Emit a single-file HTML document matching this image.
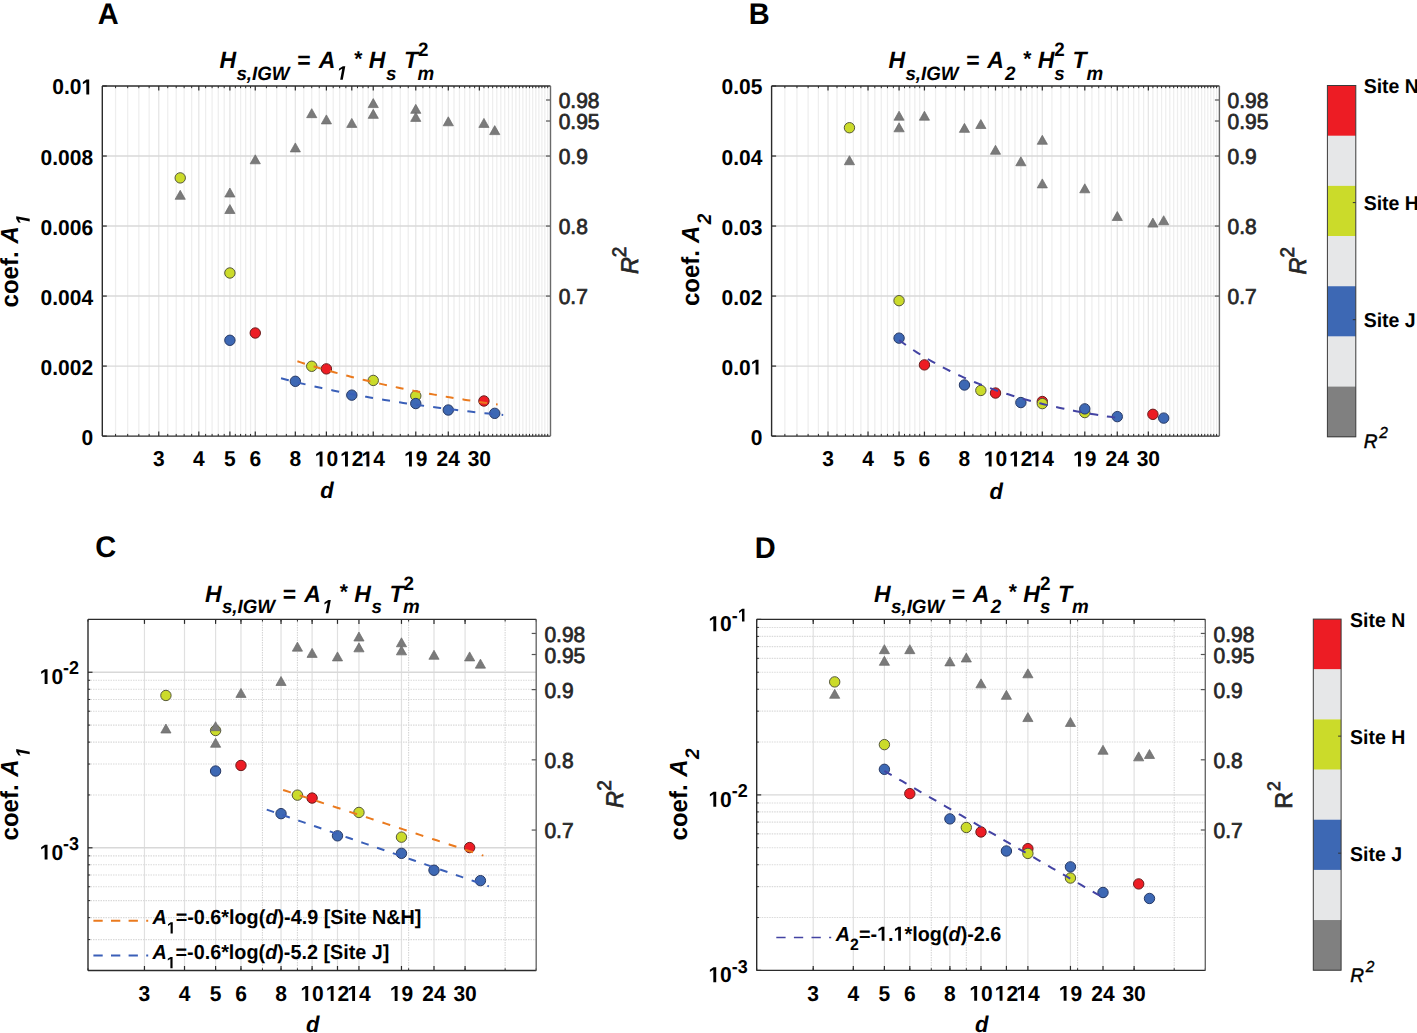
<!DOCTYPE html>
<html><head><meta charset="utf-8"><title>Figure</title>
<style>html,body{margin:0;padding:0;background:#fff;overflow:hidden;} svg{display:block;}</style>
</head><body>
<svg width="1417" height="1033" viewBox="0 0 1417 1033" text-rendering="geometricPrecision">
<rect width="1417" height="1033" fill="#fff"/>
<line x1="115.57" y1="86" x2="115.57" y2="436.1" stroke="#eeeeee" stroke-width="1.25" />
<line x1="127.69" y1="86" x2="127.69" y2="436.1" stroke="#eeeeee" stroke-width="1.25" />
<line x1="138.83" y1="86" x2="138.83" y2="436.1" stroke="#eeeeee" stroke-width="1.25" />
<line x1="149.15" y1="86" x2="149.15" y2="436.1" stroke="#eeeeee" stroke-width="1.25" />
<line x1="167.74" y1="86" x2="167.74" y2="436.1" stroke="#eeeeee" stroke-width="1.25" />
<line x1="176.19" y1="86" x2="176.19" y2="436.1" stroke="#eeeeee" stroke-width="1.25" />
<line x1="184.14" y1="86" x2="184.14" y2="436.1" stroke="#eeeeee" stroke-width="1.25" />
<line x1="191.67" y1="86" x2="191.67" y2="436.1" stroke="#eeeeee" stroke-width="1.25" />
<line x1="205.61" y1="86" x2="205.61" y2="436.1" stroke="#eeeeee" stroke-width="1.25" />
<line x1="212.09" y1="86" x2="212.09" y2="436.1" stroke="#eeeeee" stroke-width="1.25" />
<line x1="218.28" y1="86" x2="218.28" y2="436.1" stroke="#eeeeee" stroke-width="1.25" />
<line x1="224.2" y1="86" x2="224.2" y2="436.1" stroke="#eeeeee" stroke-width="1.25" />
<line x1="235.35" y1="86" x2="235.35" y2="436.1" stroke="#eeeeee" stroke-width="1.25" />
<line x1="240.6" y1="86" x2="240.6" y2="436.1" stroke="#eeeeee" stroke-width="1.25" />
<line x1="245.67" y1="86" x2="245.67" y2="436.1" stroke="#eeeeee" stroke-width="1.25" />
<line x1="250.55" y1="86" x2="250.55" y2="436.1" stroke="#eeeeee" stroke-width="1.25" />
<line x1="266.42" y1="86" x2="266.42" y2="436.1" stroke="#eeeeee" stroke-width="1.25" />
<line x1="276.74" y1="86" x2="276.74" y2="436.1" stroke="#eeeeee" stroke-width="1.25" />
<line x1="286.34" y1="86" x2="286.34" y2="436.1" stroke="#eeeeee" stroke-width="1.25" />
<line x1="303.77" y1="86" x2="303.77" y2="436.1" stroke="#eeeeee" stroke-width="1.25" />
<line x1="311.73" y1="86" x2="311.73" y2="436.1" stroke="#eeeeee" stroke-width="1.25" />
<line x1="319.26" y1="86" x2="319.26" y2="436.1" stroke="#eeeeee" stroke-width="1.25" />
<line x1="333.19" y1="86" x2="333.19" y2="436.1" stroke="#eeeeee" stroke-width="1.25" />
<line x1="339.67" y1="86" x2="339.67" y2="436.1" stroke="#eeeeee" stroke-width="1.25" />
<line x1="345.86" y1="86" x2="345.86" y2="436.1" stroke="#eeeeee" stroke-width="1.25" />
<line x1="357.47" y1="86" x2="357.47" y2="436.1" stroke="#eeeeee" stroke-width="1.25" />
<line x1="362.93" y1="86" x2="362.93" y2="436.1" stroke="#eeeeee" stroke-width="1.25" />
<line x1="368.19" y1="86" x2="368.19" y2="436.1" stroke="#eeeeee" stroke-width="1.25" />
<line x1="382.86" y1="86" x2="382.86" y2="436.1" stroke="#eeeeee" stroke-width="1.25" />
<line x1="391.84" y1="86" x2="391.84" y2="436.1" stroke="#eeeeee" stroke-width="1.25" />
<line x1="400.29" y1="86" x2="400.29" y2="436.1" stroke="#eeeeee" stroke-width="1.25" />
<line x1="408.24" y1="86" x2="408.24" y2="436.1" stroke="#eeeeee" stroke-width="1.25" />
<line x1="422.91" y1="86" x2="422.91" y2="436.1" stroke="#eeeeee" stroke-width="1.25" />
<line x1="429.71" y1="86" x2="429.71" y2="436.1" stroke="#eeeeee" stroke-width="1.25" />
<line x1="436.19" y1="86" x2="436.19" y2="436.1" stroke="#eeeeee" stroke-width="1.25" />
<line x1="442.38" y1="86" x2="442.38" y2="436.1" stroke="#eeeeee" stroke-width="1.25" />
<line x1="453.99" y1="86" x2="453.99" y2="436.1" stroke="#eeeeee" stroke-width="1.25" />
<line x1="459.45" y1="86" x2="459.45" y2="436.1" stroke="#eeeeee" stroke-width="1.25" />
<line x1="464.7" y1="86" x2="464.7" y2="436.1" stroke="#eeeeee" stroke-width="1.25" />
<line x1="469.77" y1="86" x2="469.77" y2="436.1" stroke="#eeeeee" stroke-width="1.25" />
<line x1="474.65" y1="86" x2="474.65" y2="436.1" stroke="#eeeeee" stroke-width="1.25" />
<line x1="483.94" y1="86" x2="483.94" y2="436.1" stroke="#eeeeee" stroke-width="1.25" />
<line x1="488.36" y1="86" x2="488.36" y2="436.1" stroke="#eeeeee" stroke-width="1.25" />
<line x1="492.64" y1="86" x2="492.64" y2="436.1" stroke="#eeeeee" stroke-width="1.25" />
<line x1="496.8" y1="86" x2="496.8" y2="436.1" stroke="#eeeeee" stroke-width="1.25" />
<line x1="500.84" y1="86" x2="500.84" y2="436.1" stroke="#eeeeee" stroke-width="1.25" />
<line x1="504.76" y1="86" x2="504.76" y2="436.1" stroke="#eeeeee" stroke-width="1.25" />
<line x1="508.57" y1="86" x2="508.57" y2="436.1" stroke="#eeeeee" stroke-width="1.25" />
<line x1="512.29" y1="86" x2="512.29" y2="436.1" stroke="#eeeeee" stroke-width="1.25" />
<line x1="515.9" y1="86" x2="515.9" y2="436.1" stroke="#eeeeee" stroke-width="1.25" />
<line x1="519.43" y1="86" x2="519.43" y2="436.1" stroke="#eeeeee" stroke-width="1.25" />
<line x1="522.87" y1="86" x2="522.87" y2="436.1" stroke="#eeeeee" stroke-width="1.25" />
<line x1="526.22" y1="86" x2="526.22" y2="436.1" stroke="#eeeeee" stroke-width="1.25" />
<line x1="529.5" y1="86" x2="529.5" y2="436.1" stroke="#eeeeee" stroke-width="1.25" />
<line x1="532.7" y1="86" x2="532.7" y2="436.1" stroke="#eeeeee" stroke-width="1.25" />
<line x1="535.83" y1="86" x2="535.83" y2="436.1" stroke="#eeeeee" stroke-width="1.25" />
<line x1="538.89" y1="86" x2="538.89" y2="436.1" stroke="#eeeeee" stroke-width="1.25" />
<line x1="541.88" y1="86" x2="541.88" y2="436.1" stroke="#eeeeee" stroke-width="1.25" />
<line x1="544.82" y1="86" x2="544.82" y2="436.1" stroke="#eeeeee" stroke-width="1.25" />
<line x1="547.69" y1="86" x2="547.69" y2="436.1" stroke="#eeeeee" stroke-width="1.25" />
<line x1="158.76" y1="86" x2="158.76" y2="436.1" stroke="#e6e6e6" stroke-width="1.3" />
<line x1="198.81" y1="86" x2="198.81" y2="436.1" stroke="#e6e6e6" stroke-width="1.3" />
<line x1="229.89" y1="86" x2="229.89" y2="436.1" stroke="#e6e6e6" stroke-width="1.3" />
<line x1="255.27" y1="86" x2="255.27" y2="436.1" stroke="#e6e6e6" stroke-width="1.3" />
<line x1="295.33" y1="86" x2="295.33" y2="436.1" stroke="#e6e6e6" stroke-width="1.3" />
<line x1="326.4" y1="86" x2="326.4" y2="436.1" stroke="#e6e6e6" stroke-width="1.3" />
<line x1="351.79" y1="86" x2="351.79" y2="436.1" stroke="#e6e6e6" stroke-width="1.3" />
<line x1="373.25" y1="86" x2="373.25" y2="436.1" stroke="#e6e6e6" stroke-width="1.3" />
<line x1="415.77" y1="86" x2="415.77" y2="436.1" stroke="#e6e6e6" stroke-width="1.3" />
<line x1="448.3" y1="86" x2="448.3" y2="436.1" stroke="#e6e6e6" stroke-width="1.3" />
<line x1="479.37" y1="86" x2="479.37" y2="436.1" stroke="#e6e6e6" stroke-width="1.3" />
<line x1="102.3" y1="366.08" x2="550.5" y2="366.08" stroke="#d8d8d8" stroke-width="1.4" />
<line x1="102.3" y1="296.06" x2="550.5" y2="296.06" stroke="#d8d8d8" stroke-width="1.4" />
<line x1="102.3" y1="226.04" x2="550.5" y2="226.04" stroke="#d8d8d8" stroke-width="1.4" />
<line x1="102.3" y1="156.02" x2="550.5" y2="156.02" stroke="#d8d8d8" stroke-width="1.4" />
<circle cx="255.27" cy="333" r="5.2" fill="#ed1c24" stroke="#6a1c1c" stroke-width="1.0"/>
<circle cx="326.4" cy="368.88" r="5.2" fill="#ed1c24" stroke="#6a1c1c" stroke-width="1.0"/>
<circle cx="483.94" cy="400.98" r="5.2" fill="#ed1c24" stroke="#6a1c1c" stroke-width="1.0"/>
<circle cx="180.22" cy="177.9" r="5.2" fill="#cbdb2a" stroke="#55573a" stroke-width="1.0"/>
<circle cx="229.89" cy="272.99" r="5.2" fill="#cbdb2a" stroke="#55573a" stroke-width="1.0"/>
<circle cx="311.73" cy="366.26" r="5.2" fill="#cbdb2a" stroke="#55573a" stroke-width="1.0"/>
<circle cx="373.25" cy="380.43" r="5.2" fill="#cbdb2a" stroke="#55573a" stroke-width="1.0"/>
<circle cx="415.77" cy="395.84" r="5.2" fill="#cbdb2a" stroke="#55573a" stroke-width="1.0"/>
<circle cx="229.89" cy="340.28" r="5.2" fill="#3d68b4" stroke="#283a66" stroke-width="1.0"/>
<circle cx="295.33" cy="381.31" r="5.2" fill="#3d68b4" stroke="#283a66" stroke-width="1.0"/>
<circle cx="351.79" cy="395.14" r="5.2" fill="#3d68b4" stroke="#283a66" stroke-width="1.0"/>
<circle cx="415.77" cy="403.54" r="5.2" fill="#3d68b4" stroke="#283a66" stroke-width="1.0"/>
<circle cx="448.3" cy="410.02" r="5.2" fill="#3d68b4" stroke="#283a66" stroke-width="1.0"/>
<circle cx="494.74" cy="413.34" r="5.2" fill="#3d68b4" stroke="#283a66" stroke-width="1.0"/>
<polygon points="180.22,190.31 185.32,199.31 175.12,199.31" fill="#7a7a7a" stroke="#6a6a6a" stroke-width="0.7" stroke-linejoin="round"/>
<polygon points="229.89,188 234.99,197 224.79,197" fill="#7a7a7a" stroke="#6a6a6a" stroke-width="0.7" stroke-linejoin="round"/>
<polygon points="229.89,204.53 234.99,213.53 224.79,213.53" fill="#7a7a7a" stroke="#6a6a6a" stroke-width="0.7" stroke-linejoin="round"/>
<polygon points="255.27,154.81 260.37,163.81 250.17,163.81" fill="#7a7a7a" stroke="#6a6a6a" stroke-width="0.7" stroke-linejoin="round"/>
<polygon points="295.33,142.91 300.43,151.91 290.23,151.91" fill="#7a7a7a" stroke="#6a6a6a" stroke-width="0.7" stroke-linejoin="round"/>
<polygon points="311.73,108.67 316.83,117.67 306.63,117.67" fill="#7a7a7a" stroke="#6a6a6a" stroke-width="0.7" stroke-linejoin="round"/>
<polygon points="326.4,114.9 331.5,123.9 321.3,123.9" fill="#7a7a7a" stroke="#6a6a6a" stroke-width="0.7" stroke-linejoin="round"/>
<polygon points="351.79,118.4 356.89,127.4 346.69,127.4" fill="#7a7a7a" stroke="#6a6a6a" stroke-width="0.7" stroke-linejoin="round"/>
<polygon points="373.25,98.58 378.35,107.58 368.15,107.58" fill="#7a7a7a" stroke="#6a6a6a" stroke-width="0.7" stroke-linejoin="round"/>
<polygon points="373.25,109.37 378.35,118.37 368.15,118.37" fill="#7a7a7a" stroke="#6a6a6a" stroke-width="0.7" stroke-linejoin="round"/>
<polygon points="415.77,104.33 420.87,113.33 410.67,113.33" fill="#7a7a7a" stroke="#6a6a6a" stroke-width="0.7" stroke-linejoin="round"/>
<polygon points="415.77,112.38 420.87,121.38 410.67,121.38" fill="#7a7a7a" stroke="#6a6a6a" stroke-width="0.7" stroke-linejoin="round"/>
<polygon points="448.3,116.79 453.4,125.79 443.2,125.79" fill="#7a7a7a" stroke="#6a6a6a" stroke-width="0.7" stroke-linejoin="round"/>
<polygon points="483.94,118.4 489.04,127.4 478.84,127.4" fill="#7a7a7a" stroke="#6a6a6a" stroke-width="0.7" stroke-linejoin="round"/>
<polygon points="494.74,125.61 499.84,134.61 489.64,134.61" fill="#7a7a7a" stroke="#6a6a6a" stroke-width="0.7" stroke-linejoin="round"/>
<polyline points="297.4,361.32 300.74,362.39 304.08,363.44 307.41,364.47 310.75,365.5 314.09,366.5 317.42,367.5 320.76,368.47 324.1,369.44 327.43,370.39 330.77,371.33 334.11,372.25 337.45,373.16 340.78,374.06 344.12,374.94 347.46,375.82 350.79,376.68 354.13,377.52 357.47,378.36 360.8,379.18 364.14,380 367.48,380.8 370.81,381.59 374.15,382.36 377.49,383.13 380.82,383.88 384.16,384.63 387.5,385.36 390.84,386.09 394.17,386.8 397.51,387.5 400.85,388.2 404.18,388.88 407.52,389.55 410.86,390.22 414.19,390.87 417.53,391.52 420.87,392.15 424.2,392.78 427.54,393.4 430.88,394.01 434.22,394.61 437.55,395.2 440.89,395.78 444.23,396.36 447.56,396.93 450.9,397.48 454.24,398.04 457.57,398.58 460.91,399.11 464.25,399.64 467.58,400.16 470.92,400.67 474.26,401.18 477.6,401.68 480.93,402.17 484.27,402.65 487.61,403.13 490.94,403.6 494.28,404.06 497.62,404.52" fill="none" stroke="#ea7a1e" stroke-width="2" stroke-dasharray="7.887 9.070"/>
<polyline points="281.04,378.33 284.75,379.29 288.45,380.24 292.15,381.17 295.86,382.08 299.56,382.98 303.26,383.87 306.96,384.73 310.67,385.59 314.37,386.43 318.07,387.26 321.77,388.07 325.48,388.87 329.18,389.65 332.88,390.43 336.58,391.19 340.29,391.93 343.99,392.67 347.69,393.39 351.39,394.1 355.1,394.8 358.8,395.49 362.5,396.16 366.21,396.83 369.91,397.48 373.61,398.12 377.31,398.75 381.02,399.38 384.72,399.99 388.42,400.59 392.12,401.18 395.83,401.76 399.53,402.33 403.23,402.89 406.93,403.45 410.64,403.99 414.34,404.52 418.04,405.05 421.75,405.56 425.45,406.07 429.15,406.57 432.85,407.06 436.56,407.55 440.26,408.02 443.96,408.49 447.66,408.95 451.37,409.4 455.07,409.84 458.77,410.28 462.47,410.71 466.18,411.13 469.88,411.55 473.58,411.96 477.28,412.36 480.99,412.75 484.69,413.14 488.39,413.52 492.1,413.9 495.8,414.27 499.5,414.63 503.2,414.99" fill="none" stroke="#3a5fb8" stroke-width="2" stroke-dasharray="8.007 9.208"/>
<line x1="158.76" y1="436.1" x2="158.76" y2="431.6" stroke="#2b2b2b" stroke-width="1.2" />
<line x1="158.76" y1="86" x2="158.76" y2="90.5" stroke="#2b2b2b" stroke-width="1.2" />
<line x1="198.81" y1="436.1" x2="198.81" y2="431.6" stroke="#2b2b2b" stroke-width="1.2" />
<line x1="198.81" y1="86" x2="198.81" y2="90.5" stroke="#2b2b2b" stroke-width="1.2" />
<line x1="229.89" y1="436.1" x2="229.89" y2="431.6" stroke="#2b2b2b" stroke-width="1.2" />
<line x1="229.89" y1="86" x2="229.89" y2="90.5" stroke="#2b2b2b" stroke-width="1.2" />
<line x1="255.27" y1="436.1" x2="255.27" y2="431.6" stroke="#2b2b2b" stroke-width="1.2" />
<line x1="255.27" y1="86" x2="255.27" y2="90.5" stroke="#2b2b2b" stroke-width="1.2" />
<line x1="295.33" y1="436.1" x2="295.33" y2="431.6" stroke="#2b2b2b" stroke-width="1.2" />
<line x1="295.33" y1="86" x2="295.33" y2="90.5" stroke="#2b2b2b" stroke-width="1.2" />
<line x1="326.4" y1="436.1" x2="326.4" y2="431.6" stroke="#2b2b2b" stroke-width="1.2" />
<line x1="326.4" y1="86" x2="326.4" y2="90.5" stroke="#2b2b2b" stroke-width="1.2" />
<line x1="351.79" y1="436.1" x2="351.79" y2="431.6" stroke="#2b2b2b" stroke-width="1.2" />
<line x1="351.79" y1="86" x2="351.79" y2="90.5" stroke="#2b2b2b" stroke-width="1.2" />
<line x1="373.25" y1="436.1" x2="373.25" y2="431.6" stroke="#2b2b2b" stroke-width="1.2" />
<line x1="373.25" y1="86" x2="373.25" y2="90.5" stroke="#2b2b2b" stroke-width="1.2" />
<line x1="415.77" y1="436.1" x2="415.77" y2="431.6" stroke="#2b2b2b" stroke-width="1.2" />
<line x1="415.77" y1="86" x2="415.77" y2="90.5" stroke="#2b2b2b" stroke-width="1.2" />
<line x1="448.3" y1="436.1" x2="448.3" y2="431.6" stroke="#2b2b2b" stroke-width="1.2" />
<line x1="448.3" y1="86" x2="448.3" y2="90.5" stroke="#2b2b2b" stroke-width="1.2" />
<line x1="479.37" y1="436.1" x2="479.37" y2="431.6" stroke="#2b2b2b" stroke-width="1.2" />
<line x1="479.37" y1="86" x2="479.37" y2="90.5" stroke="#2b2b2b" stroke-width="1.2" />
<line x1="115.57" y1="436.1" x2="115.57" y2="433.9" stroke="#2b2b2b" stroke-width="1" />
<line x1="115.57" y1="86" x2="115.57" y2="88.2" stroke="#2b2b2b" stroke-width="1" />
<line x1="127.69" y1="436.1" x2="127.69" y2="433.9" stroke="#2b2b2b" stroke-width="1" />
<line x1="127.69" y1="86" x2="127.69" y2="88.2" stroke="#2b2b2b" stroke-width="1" />
<line x1="138.83" y1="436.1" x2="138.83" y2="433.9" stroke="#2b2b2b" stroke-width="1" />
<line x1="138.83" y1="86" x2="138.83" y2="88.2" stroke="#2b2b2b" stroke-width="1" />
<line x1="149.15" y1="436.1" x2="149.15" y2="433.9" stroke="#2b2b2b" stroke-width="1" />
<line x1="149.15" y1="86" x2="149.15" y2="88.2" stroke="#2b2b2b" stroke-width="1" />
<line x1="167.74" y1="436.1" x2="167.74" y2="433.9" stroke="#2b2b2b" stroke-width="1" />
<line x1="167.74" y1="86" x2="167.74" y2="88.2" stroke="#2b2b2b" stroke-width="1" />
<line x1="176.19" y1="436.1" x2="176.19" y2="433.9" stroke="#2b2b2b" stroke-width="1" />
<line x1="176.19" y1="86" x2="176.19" y2="88.2" stroke="#2b2b2b" stroke-width="1" />
<line x1="184.14" y1="436.1" x2="184.14" y2="433.9" stroke="#2b2b2b" stroke-width="1" />
<line x1="184.14" y1="86" x2="184.14" y2="88.2" stroke="#2b2b2b" stroke-width="1" />
<line x1="191.67" y1="436.1" x2="191.67" y2="433.9" stroke="#2b2b2b" stroke-width="1" />
<line x1="191.67" y1="86" x2="191.67" y2="88.2" stroke="#2b2b2b" stroke-width="1" />
<line x1="205.61" y1="436.1" x2="205.61" y2="433.9" stroke="#2b2b2b" stroke-width="1" />
<line x1="205.61" y1="86" x2="205.61" y2="88.2" stroke="#2b2b2b" stroke-width="1" />
<line x1="212.09" y1="436.1" x2="212.09" y2="433.9" stroke="#2b2b2b" stroke-width="1" />
<line x1="212.09" y1="86" x2="212.09" y2="88.2" stroke="#2b2b2b" stroke-width="1" />
<line x1="218.28" y1="436.1" x2="218.28" y2="433.9" stroke="#2b2b2b" stroke-width="1" />
<line x1="218.28" y1="86" x2="218.28" y2="88.2" stroke="#2b2b2b" stroke-width="1" />
<line x1="224.2" y1="436.1" x2="224.2" y2="433.9" stroke="#2b2b2b" stroke-width="1" />
<line x1="224.2" y1="86" x2="224.2" y2="88.2" stroke="#2b2b2b" stroke-width="1" />
<line x1="235.35" y1="436.1" x2="235.35" y2="433.9" stroke="#2b2b2b" stroke-width="1" />
<line x1="235.35" y1="86" x2="235.35" y2="88.2" stroke="#2b2b2b" stroke-width="1" />
<line x1="240.6" y1="436.1" x2="240.6" y2="433.9" stroke="#2b2b2b" stroke-width="1" />
<line x1="240.6" y1="86" x2="240.6" y2="88.2" stroke="#2b2b2b" stroke-width="1" />
<line x1="245.67" y1="436.1" x2="245.67" y2="433.9" stroke="#2b2b2b" stroke-width="1" />
<line x1="245.67" y1="86" x2="245.67" y2="88.2" stroke="#2b2b2b" stroke-width="1" />
<line x1="250.55" y1="436.1" x2="250.55" y2="433.9" stroke="#2b2b2b" stroke-width="1" />
<line x1="250.55" y1="86" x2="250.55" y2="88.2" stroke="#2b2b2b" stroke-width="1" />
<line x1="266.42" y1="436.1" x2="266.42" y2="433.9" stroke="#2b2b2b" stroke-width="1" />
<line x1="266.42" y1="86" x2="266.42" y2="88.2" stroke="#2b2b2b" stroke-width="1" />
<line x1="276.74" y1="436.1" x2="276.74" y2="433.9" stroke="#2b2b2b" stroke-width="1" />
<line x1="276.74" y1="86" x2="276.74" y2="88.2" stroke="#2b2b2b" stroke-width="1" />
<line x1="286.34" y1="436.1" x2="286.34" y2="433.9" stroke="#2b2b2b" stroke-width="1" />
<line x1="286.34" y1="86" x2="286.34" y2="88.2" stroke="#2b2b2b" stroke-width="1" />
<line x1="303.77" y1="436.1" x2="303.77" y2="433.9" stroke="#2b2b2b" stroke-width="1" />
<line x1="303.77" y1="86" x2="303.77" y2="88.2" stroke="#2b2b2b" stroke-width="1" />
<line x1="311.73" y1="436.1" x2="311.73" y2="433.9" stroke="#2b2b2b" stroke-width="1" />
<line x1="311.73" y1="86" x2="311.73" y2="88.2" stroke="#2b2b2b" stroke-width="1" />
<line x1="319.26" y1="436.1" x2="319.26" y2="433.9" stroke="#2b2b2b" stroke-width="1" />
<line x1="319.26" y1="86" x2="319.26" y2="88.2" stroke="#2b2b2b" stroke-width="1" />
<line x1="333.19" y1="436.1" x2="333.19" y2="433.9" stroke="#2b2b2b" stroke-width="1" />
<line x1="333.19" y1="86" x2="333.19" y2="88.2" stroke="#2b2b2b" stroke-width="1" />
<line x1="339.67" y1="436.1" x2="339.67" y2="433.9" stroke="#2b2b2b" stroke-width="1" />
<line x1="339.67" y1="86" x2="339.67" y2="88.2" stroke="#2b2b2b" stroke-width="1" />
<line x1="345.86" y1="436.1" x2="345.86" y2="433.9" stroke="#2b2b2b" stroke-width="1" />
<line x1="345.86" y1="86" x2="345.86" y2="88.2" stroke="#2b2b2b" stroke-width="1" />
<line x1="357.47" y1="436.1" x2="357.47" y2="433.9" stroke="#2b2b2b" stroke-width="1" />
<line x1="357.47" y1="86" x2="357.47" y2="88.2" stroke="#2b2b2b" stroke-width="1" />
<line x1="362.93" y1="436.1" x2="362.93" y2="433.9" stroke="#2b2b2b" stroke-width="1" />
<line x1="362.93" y1="86" x2="362.93" y2="88.2" stroke="#2b2b2b" stroke-width="1" />
<line x1="368.19" y1="436.1" x2="368.19" y2="433.9" stroke="#2b2b2b" stroke-width="1" />
<line x1="368.19" y1="86" x2="368.19" y2="88.2" stroke="#2b2b2b" stroke-width="1" />
<line x1="382.86" y1="436.1" x2="382.86" y2="433.9" stroke="#2b2b2b" stroke-width="1" />
<line x1="382.86" y1="86" x2="382.86" y2="88.2" stroke="#2b2b2b" stroke-width="1" />
<line x1="391.84" y1="436.1" x2="391.84" y2="433.9" stroke="#2b2b2b" stroke-width="1" />
<line x1="391.84" y1="86" x2="391.84" y2="88.2" stroke="#2b2b2b" stroke-width="1" />
<line x1="400.29" y1="436.1" x2="400.29" y2="433.9" stroke="#2b2b2b" stroke-width="1" />
<line x1="400.29" y1="86" x2="400.29" y2="88.2" stroke="#2b2b2b" stroke-width="1" />
<line x1="408.24" y1="436.1" x2="408.24" y2="433.9" stroke="#2b2b2b" stroke-width="1" />
<line x1="408.24" y1="86" x2="408.24" y2="88.2" stroke="#2b2b2b" stroke-width="1" />
<line x1="422.91" y1="436.1" x2="422.91" y2="433.9" stroke="#2b2b2b" stroke-width="1" />
<line x1="422.91" y1="86" x2="422.91" y2="88.2" stroke="#2b2b2b" stroke-width="1" />
<line x1="429.71" y1="436.1" x2="429.71" y2="433.9" stroke="#2b2b2b" stroke-width="1" />
<line x1="429.71" y1="86" x2="429.71" y2="88.2" stroke="#2b2b2b" stroke-width="1" />
<line x1="436.19" y1="436.1" x2="436.19" y2="433.9" stroke="#2b2b2b" stroke-width="1" />
<line x1="436.19" y1="86" x2="436.19" y2="88.2" stroke="#2b2b2b" stroke-width="1" />
<line x1="442.38" y1="436.1" x2="442.38" y2="433.9" stroke="#2b2b2b" stroke-width="1" />
<line x1="442.38" y1="86" x2="442.38" y2="88.2" stroke="#2b2b2b" stroke-width="1" />
<line x1="453.99" y1="436.1" x2="453.99" y2="433.9" stroke="#2b2b2b" stroke-width="1" />
<line x1="453.99" y1="86" x2="453.99" y2="88.2" stroke="#2b2b2b" stroke-width="1" />
<line x1="459.45" y1="436.1" x2="459.45" y2="433.9" stroke="#2b2b2b" stroke-width="1" />
<line x1="459.45" y1="86" x2="459.45" y2="88.2" stroke="#2b2b2b" stroke-width="1" />
<line x1="464.7" y1="436.1" x2="464.7" y2="433.9" stroke="#2b2b2b" stroke-width="1" />
<line x1="464.7" y1="86" x2="464.7" y2="88.2" stroke="#2b2b2b" stroke-width="1" />
<line x1="469.77" y1="436.1" x2="469.77" y2="433.9" stroke="#2b2b2b" stroke-width="1" />
<line x1="469.77" y1="86" x2="469.77" y2="88.2" stroke="#2b2b2b" stroke-width="1" />
<line x1="474.65" y1="436.1" x2="474.65" y2="433.9" stroke="#2b2b2b" stroke-width="1" />
<line x1="474.65" y1="86" x2="474.65" y2="88.2" stroke="#2b2b2b" stroke-width="1" />
<line x1="483.94" y1="436.1" x2="483.94" y2="433.9" stroke="#2b2b2b" stroke-width="1" />
<line x1="483.94" y1="86" x2="483.94" y2="88.2" stroke="#2b2b2b" stroke-width="1" />
<line x1="488.36" y1="436.1" x2="488.36" y2="433.9" stroke="#2b2b2b" stroke-width="1" />
<line x1="488.36" y1="86" x2="488.36" y2="88.2" stroke="#2b2b2b" stroke-width="1" />
<line x1="492.64" y1="436.1" x2="492.64" y2="433.9" stroke="#2b2b2b" stroke-width="1" />
<line x1="492.64" y1="86" x2="492.64" y2="88.2" stroke="#2b2b2b" stroke-width="1" />
<line x1="496.8" y1="436.1" x2="496.8" y2="433.9" stroke="#2b2b2b" stroke-width="1" />
<line x1="496.8" y1="86" x2="496.8" y2="88.2" stroke="#2b2b2b" stroke-width="1" />
<line x1="500.84" y1="436.1" x2="500.84" y2="433.9" stroke="#2b2b2b" stroke-width="1" />
<line x1="500.84" y1="86" x2="500.84" y2="88.2" stroke="#2b2b2b" stroke-width="1" />
<line x1="504.76" y1="436.1" x2="504.76" y2="433.9" stroke="#2b2b2b" stroke-width="1" />
<line x1="504.76" y1="86" x2="504.76" y2="88.2" stroke="#2b2b2b" stroke-width="1" />
<line x1="508.57" y1="436.1" x2="508.57" y2="433.9" stroke="#2b2b2b" stroke-width="1" />
<line x1="508.57" y1="86" x2="508.57" y2="88.2" stroke="#2b2b2b" stroke-width="1" />
<line x1="512.29" y1="436.1" x2="512.29" y2="433.9" stroke="#2b2b2b" stroke-width="1" />
<line x1="512.29" y1="86" x2="512.29" y2="88.2" stroke="#2b2b2b" stroke-width="1" />
<line x1="515.9" y1="436.1" x2="515.9" y2="433.9" stroke="#2b2b2b" stroke-width="1" />
<line x1="515.9" y1="86" x2="515.9" y2="88.2" stroke="#2b2b2b" stroke-width="1" />
<line x1="519.43" y1="436.1" x2="519.43" y2="433.9" stroke="#2b2b2b" stroke-width="1" />
<line x1="519.43" y1="86" x2="519.43" y2="88.2" stroke="#2b2b2b" stroke-width="1" />
<line x1="522.87" y1="436.1" x2="522.87" y2="433.9" stroke="#2b2b2b" stroke-width="1" />
<line x1="522.87" y1="86" x2="522.87" y2="88.2" stroke="#2b2b2b" stroke-width="1" />
<line x1="526.22" y1="436.1" x2="526.22" y2="433.9" stroke="#2b2b2b" stroke-width="1" />
<line x1="526.22" y1="86" x2="526.22" y2="88.2" stroke="#2b2b2b" stroke-width="1" />
<line x1="529.5" y1="436.1" x2="529.5" y2="433.9" stroke="#2b2b2b" stroke-width="1" />
<line x1="529.5" y1="86" x2="529.5" y2="88.2" stroke="#2b2b2b" stroke-width="1" />
<line x1="532.7" y1="436.1" x2="532.7" y2="433.9" stroke="#2b2b2b" stroke-width="1" />
<line x1="532.7" y1="86" x2="532.7" y2="88.2" stroke="#2b2b2b" stroke-width="1" />
<line x1="535.83" y1="436.1" x2="535.83" y2="433.9" stroke="#2b2b2b" stroke-width="1" />
<line x1="535.83" y1="86" x2="535.83" y2="88.2" stroke="#2b2b2b" stroke-width="1" />
<line x1="538.89" y1="436.1" x2="538.89" y2="433.9" stroke="#2b2b2b" stroke-width="1" />
<line x1="538.89" y1="86" x2="538.89" y2="88.2" stroke="#2b2b2b" stroke-width="1" />
<line x1="541.88" y1="436.1" x2="541.88" y2="433.9" stroke="#2b2b2b" stroke-width="1" />
<line x1="541.88" y1="86" x2="541.88" y2="88.2" stroke="#2b2b2b" stroke-width="1" />
<line x1="544.82" y1="436.1" x2="544.82" y2="433.9" stroke="#2b2b2b" stroke-width="1" />
<line x1="544.82" y1="86" x2="544.82" y2="88.2" stroke="#2b2b2b" stroke-width="1" />
<line x1="547.69" y1="436.1" x2="547.69" y2="433.9" stroke="#2b2b2b" stroke-width="1" />
<line x1="547.69" y1="86" x2="547.69" y2="88.2" stroke="#2b2b2b" stroke-width="1" />
<line x1="102.3" y1="436.1" x2="106.8" y2="436.1" stroke="#2b2b2b" stroke-width="1.2" />
<line x1="102.3" y1="366.08" x2="106.8" y2="366.08" stroke="#2b2b2b" stroke-width="1.2" />
<line x1="102.3" y1="296.06" x2="106.8" y2="296.06" stroke="#2b2b2b" stroke-width="1.2" />
<line x1="102.3" y1="226.04" x2="106.8" y2="226.04" stroke="#2b2b2b" stroke-width="1.2" />
<line x1="102.3" y1="156.02" x2="106.8" y2="156.02" stroke="#2b2b2b" stroke-width="1.2" />
<line x1="102.3" y1="86" x2="106.8" y2="86" stroke="#2b2b2b" stroke-width="1.2" />
<line x1="550.5" y1="296.06" x2="546" y2="296.06" stroke="#555" stroke-width="1.2" />
<line x1="550.5" y1="226.04" x2="546" y2="226.04" stroke="#555" stroke-width="1.2" />
<line x1="550.5" y1="156.02" x2="546" y2="156.02" stroke="#555" stroke-width="1.2" />
<line x1="550.5" y1="121.01" x2="546" y2="121.01" stroke="#555" stroke-width="1.2" />
<line x1="550.5" y1="100" x2="546" y2="100" stroke="#555" stroke-width="1.2" />
<line x1="102.3" y1="86" x2="550.5" y2="86" stroke="#2b2b2b" stroke-width="1.4" />
<line x1="102.3" y1="436.1" x2="550.5" y2="436.1" stroke="#2b2b2b" stroke-width="1.4" />
<line x1="102.3" y1="86" x2="102.3" y2="436.1" stroke="#2b2b2b" stroke-width="1.4" />
<line x1="550.5" y1="86" x2="550.5" y2="436.1" stroke="#6a6a6a" stroke-width="1.4" />
<text x="152.92" y="466.5" font-family="Liberation Sans, sans-serif" font-size="21" font-weight="bold" font-style="normal" fill="#000" transform="matrix(1,0,0,1.03,0,-14)" >3</text>
<text x="192.98" y="466.5" font-family="Liberation Sans, sans-serif" font-size="21" font-weight="bold" font-style="normal" fill="#000" transform="matrix(1,0,0,1.03,0,-14)" >4</text>
<text x="224.05" y="466.5" font-family="Liberation Sans, sans-serif" font-size="21" font-weight="bold" font-style="normal" fill="#000" transform="matrix(1,0,0,1.03,0,-14)" >5</text>
<text x="249.43" y="466.5" font-family="Liberation Sans, sans-serif" font-size="21" font-weight="bold" font-style="normal" fill="#000" transform="matrix(1,0,0,1.03,0,-14)" >6</text>
<text x="289.49" y="466.5" font-family="Liberation Sans, sans-serif" font-size="21" font-weight="bold" font-style="normal" fill="#000" transform="matrix(1,0,0,1.03,0,-14)" >8</text>
<path d="M478,0L478,1170L140,959L140,1180L493,1409L759,1409L759,0Z" transform="translate(314.72,466.5) scale(0.01025,-0.01056)" fill="#000" />
<text x="326.4" y="466.5" font-family="Liberation Sans, sans-serif" font-size="21" font-weight="bold" font-style="normal" fill="#000" transform="matrix(1,0,0,1.03,0,-14)" >0</text>
<path d="M478,0L478,1170L140,959L140,1180L493,1409L759,1409L759,0Z" transform="translate(340.11,466.5) scale(0.01025,-0.01056)" fill="#000" />
<text x="351.79" y="466.5" font-family="Liberation Sans, sans-serif" font-size="21" font-weight="bold" font-style="normal" fill="#000" transform="matrix(1,0,0,1.03,0,-14)" >2</text>
<path d="M478,0L478,1170L140,959L140,1180L493,1409L759,1409L759,0Z" transform="translate(361.57,466.5) scale(0.01025,-0.01056)" fill="#000" />
<text x="373.25" y="466.5" font-family="Liberation Sans, sans-serif" font-size="21" font-weight="bold" font-style="normal" fill="#000" transform="matrix(1,0,0,1.03,0,-14)" >4</text>
<path d="M478,0L478,1170L140,959L140,1180L493,1409L759,1409L759,0Z" transform="translate(404.09,466.5) scale(0.01025,-0.01056)" fill="#000" />
<text x="415.77" y="466.5" font-family="Liberation Sans, sans-serif" font-size="21" font-weight="bold" font-style="normal" fill="#000" transform="matrix(1,0,0,1.03,0,-14)" >9</text>
<text x="436.62" y="466.5" font-family="Liberation Sans, sans-serif" font-size="21" font-weight="bold" font-style="normal" fill="#000" transform="matrix(1,0,0,1.03,0,-14)" >24</text>
<text x="467.69" y="466.5" font-family="Liberation Sans, sans-serif" font-size="21" font-weight="bold" font-style="normal" fill="#000" transform="matrix(1,0,0,1.03,0,-14)" >30</text>
<text x="81.42" y="444.6" font-family="Liberation Sans, sans-serif" font-size="21" font-weight="bold" font-style="normal" fill="#000" transform="matrix(1,0,0,1.03,0,-13.34)" >0</text>
<text x="40.55" y="374.58" font-family="Liberation Sans, sans-serif" font-size="21" font-weight="bold" font-style="normal" fill="#000" transform="matrix(1,0,0,1.03,0,-11.24)" >0.002</text>
<text x="40.55" y="304.56" font-family="Liberation Sans, sans-serif" font-size="21" font-weight="bold" font-style="normal" fill="#000" transform="matrix(1,0,0,1.03,0,-9.14)" >0.004</text>
<text x="40.55" y="234.54" font-family="Liberation Sans, sans-serif" font-size="21" font-weight="bold" font-style="normal" fill="#000" transform="matrix(1,0,0,1.03,0,-7.04)" >0.006</text>
<text x="40.55" y="164.52" font-family="Liberation Sans, sans-serif" font-size="21" font-weight="bold" font-style="normal" fill="#000" transform="matrix(1,0,0,1.03,0,-4.94)" >0.008</text>
<text x="52.23" y="94.5" font-family="Liberation Sans, sans-serif" font-size="21" font-weight="bold" font-style="normal" fill="#000" transform="matrix(1,0,0,1.03,0,-2.84)" >0.0</text>
<path d="M478,0L478,1170L140,959L140,1180L493,1409L759,1409L759,0Z" transform="translate(81.42,94.5) scale(0.01025,-0.01056)" fill="#000" />
<text x="558.68" y="304.26" font-family="Liberation Sans, sans-serif" font-size="21" font-weight="normal" font-style="normal" fill="#262626" transform="matrix(1,0,0,1.03,0,-9.13)" stroke="#262626" stroke-width="0.7">0.7</text>
<text x="558.68" y="234.24" font-family="Liberation Sans, sans-serif" font-size="21" font-weight="normal" font-style="normal" fill="#262626" transform="matrix(1,0,0,1.03,0,-7.03)" stroke="#262626" stroke-width="0.7">0.8</text>
<text x="558.68" y="164.22" font-family="Liberation Sans, sans-serif" font-size="21" font-weight="normal" font-style="normal" fill="#262626" transform="matrix(1,0,0,1.03,0,-4.93)" stroke="#262626" stroke-width="0.7">0.9</text>
<text x="558.68" y="129.21" font-family="Liberation Sans, sans-serif" font-size="21" font-weight="normal" font-style="normal" fill="#262626" transform="matrix(1,0,0,1.03,0,-3.88)" stroke="#262626" stroke-width="0.7">0.95</text>
<text x="558.68" y="108.2" font-family="Liberation Sans, sans-serif" font-size="21" font-weight="normal" font-style="normal" fill="#262626" transform="matrix(1,0,0,1.03,0,-3.25)" stroke="#262626" stroke-width="0.7">0.98</text>
<line x1="784.86" y1="86" x2="784.86" y2="436.1" stroke="#eeeeee" stroke-width="1.25" />
<line x1="796.96" y1="86" x2="796.96" y2="436.1" stroke="#eeeeee" stroke-width="1.25" />
<line x1="808.1" y1="86" x2="808.1" y2="436.1" stroke="#eeeeee" stroke-width="1.25" />
<line x1="818.41" y1="86" x2="818.41" y2="436.1" stroke="#eeeeee" stroke-width="1.25" />
<line x1="836.99" y1="86" x2="836.99" y2="436.1" stroke="#eeeeee" stroke-width="1.25" />
<line x1="845.42" y1="86" x2="845.42" y2="436.1" stroke="#eeeeee" stroke-width="1.25" />
<line x1="853.37" y1="86" x2="853.37" y2="436.1" stroke="#eeeeee" stroke-width="1.25" />
<line x1="860.89" y1="86" x2="860.89" y2="436.1" stroke="#eeeeee" stroke-width="1.25" />
<line x1="874.82" y1="86" x2="874.82" y2="436.1" stroke="#eeeeee" stroke-width="1.25" />
<line x1="881.29" y1="86" x2="881.29" y2="436.1" stroke="#eeeeee" stroke-width="1.25" />
<line x1="887.47" y1="86" x2="887.47" y2="436.1" stroke="#eeeeee" stroke-width="1.25" />
<line x1="893.39" y1="86" x2="893.39" y2="436.1" stroke="#eeeeee" stroke-width="1.25" />
<line x1="904.53" y1="86" x2="904.53" y2="436.1" stroke="#eeeeee" stroke-width="1.25" />
<line x1="909.78" y1="86" x2="909.78" y2="436.1" stroke="#eeeeee" stroke-width="1.25" />
<line x1="914.84" y1="86" x2="914.84" y2="436.1" stroke="#eeeeee" stroke-width="1.25" />
<line x1="919.72" y1="86" x2="919.72" y2="436.1" stroke="#eeeeee" stroke-width="1.25" />
<line x1="935.57" y1="86" x2="935.57" y2="436.1" stroke="#eeeeee" stroke-width="1.25" />
<line x1="945.88" y1="86" x2="945.88" y2="436.1" stroke="#eeeeee" stroke-width="1.25" />
<line x1="955.48" y1="86" x2="955.48" y2="436.1" stroke="#eeeeee" stroke-width="1.25" />
<line x1="972.89" y1="86" x2="972.89" y2="436.1" stroke="#eeeeee" stroke-width="1.25" />
<line x1="980.84" y1="86" x2="980.84" y2="436.1" stroke="#eeeeee" stroke-width="1.25" />
<line x1="988.36" y1="86" x2="988.36" y2="436.1" stroke="#eeeeee" stroke-width="1.25" />
<line x1="1002.29" y1="86" x2="1002.29" y2="436.1" stroke="#eeeeee" stroke-width="1.25" />
<line x1="1008.76" y1="86" x2="1008.76" y2="436.1" stroke="#eeeeee" stroke-width="1.25" />
<line x1="1014.94" y1="86" x2="1014.94" y2="436.1" stroke="#eeeeee" stroke-width="1.25" />
<line x1="1026.54" y1="86" x2="1026.54" y2="436.1" stroke="#eeeeee" stroke-width="1.25" />
<line x1="1032" y1="86" x2="1032" y2="436.1" stroke="#eeeeee" stroke-width="1.25" />
<line x1="1037.25" y1="86" x2="1037.25" y2="436.1" stroke="#eeeeee" stroke-width="1.25" />
<line x1="1051.91" y1="86" x2="1051.91" y2="436.1" stroke="#eeeeee" stroke-width="1.25" />
<line x1="1060.89" y1="86" x2="1060.89" y2="436.1" stroke="#eeeeee" stroke-width="1.25" />
<line x1="1069.32" y1="86" x2="1069.32" y2="436.1" stroke="#eeeeee" stroke-width="1.25" />
<line x1="1077.27" y1="86" x2="1077.27" y2="436.1" stroke="#eeeeee" stroke-width="1.25" />
<line x1="1091.93" y1="86" x2="1091.93" y2="436.1" stroke="#eeeeee" stroke-width="1.25" />
<line x1="1098.72" y1="86" x2="1098.72" y2="436.1" stroke="#eeeeee" stroke-width="1.25" />
<line x1="1105.19" y1="86" x2="1105.19" y2="436.1" stroke="#eeeeee" stroke-width="1.25" />
<line x1="1111.37" y1="86" x2="1111.37" y2="436.1" stroke="#eeeeee" stroke-width="1.25" />
<line x1="1122.97" y1="86" x2="1122.97" y2="436.1" stroke="#eeeeee" stroke-width="1.25" />
<line x1="1128.43" y1="86" x2="1128.43" y2="436.1" stroke="#eeeeee" stroke-width="1.25" />
<line x1="1133.68" y1="86" x2="1133.68" y2="436.1" stroke="#eeeeee" stroke-width="1.25" />
<line x1="1138.74" y1="86" x2="1138.74" y2="436.1" stroke="#eeeeee" stroke-width="1.25" />
<line x1="1143.62" y1="86" x2="1143.62" y2="436.1" stroke="#eeeeee" stroke-width="1.25" />
<line x1="1152.9" y1="86" x2="1152.9" y2="436.1" stroke="#eeeeee" stroke-width="1.25" />
<line x1="1157.31" y1="86" x2="1157.31" y2="436.1" stroke="#eeeeee" stroke-width="1.25" />
<line x1="1161.59" y1="86" x2="1161.59" y2="436.1" stroke="#eeeeee" stroke-width="1.25" />
<line x1="1165.75" y1="86" x2="1165.75" y2="436.1" stroke="#eeeeee" stroke-width="1.25" />
<line x1="1169.78" y1="86" x2="1169.78" y2="436.1" stroke="#eeeeee" stroke-width="1.25" />
<line x1="1173.7" y1="86" x2="1173.7" y2="436.1" stroke="#eeeeee" stroke-width="1.25" />
<line x1="1177.51" y1="86" x2="1177.51" y2="436.1" stroke="#eeeeee" stroke-width="1.25" />
<line x1="1181.22" y1="86" x2="1181.22" y2="436.1" stroke="#eeeeee" stroke-width="1.25" />
<line x1="1184.83" y1="86" x2="1184.83" y2="436.1" stroke="#eeeeee" stroke-width="1.25" />
<line x1="1188.36" y1="86" x2="1188.36" y2="436.1" stroke="#eeeeee" stroke-width="1.25" />
<line x1="1191.79" y1="86" x2="1191.79" y2="436.1" stroke="#eeeeee" stroke-width="1.25" />
<line x1="1195.14" y1="86" x2="1195.14" y2="436.1" stroke="#eeeeee" stroke-width="1.25" />
<line x1="1198.42" y1="86" x2="1198.42" y2="436.1" stroke="#eeeeee" stroke-width="1.25" />
<line x1="1201.62" y1="86" x2="1201.62" y2="436.1" stroke="#eeeeee" stroke-width="1.25" />
<line x1="1204.74" y1="86" x2="1204.74" y2="436.1" stroke="#eeeeee" stroke-width="1.25" />
<line x1="1207.8" y1="86" x2="1207.8" y2="436.1" stroke="#eeeeee" stroke-width="1.25" />
<line x1="1210.79" y1="86" x2="1210.79" y2="436.1" stroke="#eeeeee" stroke-width="1.25" />
<line x1="1213.72" y1="86" x2="1213.72" y2="436.1" stroke="#eeeeee" stroke-width="1.25" />
<line x1="1216.59" y1="86" x2="1216.59" y2="436.1" stroke="#eeeeee" stroke-width="1.25" />
<line x1="828.01" y1="86" x2="828.01" y2="436.1" stroke="#e6e6e6" stroke-width="1.3" />
<line x1="868.03" y1="86" x2="868.03" y2="436.1" stroke="#e6e6e6" stroke-width="1.3" />
<line x1="899.07" y1="86" x2="899.07" y2="436.1" stroke="#e6e6e6" stroke-width="1.3" />
<line x1="924.44" y1="86" x2="924.44" y2="436.1" stroke="#e6e6e6" stroke-width="1.3" />
<line x1="964.46" y1="86" x2="964.46" y2="436.1" stroke="#e6e6e6" stroke-width="1.3" />
<line x1="995.5" y1="86" x2="995.5" y2="436.1" stroke="#e6e6e6" stroke-width="1.3" />
<line x1="1020.86" y1="86" x2="1020.86" y2="436.1" stroke="#e6e6e6" stroke-width="1.3" />
<line x1="1042.31" y1="86" x2="1042.31" y2="436.1" stroke="#e6e6e6" stroke-width="1.3" />
<line x1="1084.79" y1="86" x2="1084.79" y2="436.1" stroke="#e6e6e6" stroke-width="1.3" />
<line x1="1117.29" y1="86" x2="1117.29" y2="436.1" stroke="#e6e6e6" stroke-width="1.3" />
<line x1="1148.34" y1="86" x2="1148.34" y2="436.1" stroke="#e6e6e6" stroke-width="1.3" />
<line x1="771.6" y1="366.08" x2="1219.4" y2="366.08" stroke="#d8d8d8" stroke-width="1.4" />
<line x1="771.6" y1="296.06" x2="1219.4" y2="296.06" stroke="#d8d8d8" stroke-width="1.4" />
<line x1="771.6" y1="226.04" x2="1219.4" y2="226.04" stroke="#d8d8d8" stroke-width="1.4" />
<line x1="771.6" y1="156.02" x2="1219.4" y2="156.02" stroke="#d8d8d8" stroke-width="1.4" />
<circle cx="924.44" cy="364.89" r="5.2" fill="#ed1c24" stroke="#6a1c1c" stroke-width="1.0"/>
<circle cx="995.5" cy="393.04" r="5.2" fill="#ed1c24" stroke="#6a1c1c" stroke-width="1.0"/>
<circle cx="1042.31" cy="401.51" r="5.2" fill="#ed1c24" stroke="#6a1c1c" stroke-width="1.0"/>
<circle cx="1152.9" cy="414.32" r="5.2" fill="#ed1c24" stroke="#6a1c1c" stroke-width="1.0"/>
<circle cx="849.45" cy="127.73" r="5.2" fill="#cbdb2a" stroke="#55573a" stroke-width="1.0"/>
<circle cx="899.07" cy="300.68" r="5.2" fill="#cbdb2a" stroke="#55573a" stroke-width="1.0"/>
<circle cx="980.84" cy="390.45" r="5.2" fill="#cbdb2a" stroke="#55573a" stroke-width="1.0"/>
<circle cx="1042.31" cy="403.61" r="5.2" fill="#cbdb2a" stroke="#55573a" stroke-width="1.0"/>
<circle cx="1084.79" cy="412.57" r="5.2" fill="#cbdb2a" stroke="#55573a" stroke-width="1.0"/>
<circle cx="899.07" cy="338.14" r="5.2" fill="#3d68b4" stroke="#283a66" stroke-width="1.0"/>
<circle cx="964.46" cy="384.99" r="5.2" fill="#3d68b4" stroke="#283a66" stroke-width="1.0"/>
<circle cx="1020.86" cy="402.56" r="5.2" fill="#3d68b4" stroke="#283a66" stroke-width="1.0"/>
<circle cx="1084.79" cy="408.86" r="5.2" fill="#3d68b4" stroke="#283a66" stroke-width="1.0"/>
<circle cx="1117.29" cy="416.63" r="5.2" fill="#3d68b4" stroke="#283a66" stroke-width="1.0"/>
<circle cx="1163.69" cy="418.1" r="5.2" fill="#3d68b4" stroke="#283a66" stroke-width="1.0"/>
<polygon points="849.45,155.72 854.55,164.72 844.35,164.72" fill="#7a7a7a" stroke="#6a6a6a" stroke-width="0.7" stroke-linejoin="round"/>
<polygon points="899.07,111.19 904.17,120.19 893.97,120.19" fill="#7a7a7a" stroke="#6a6a6a" stroke-width="0.7" stroke-linejoin="round"/>
<polygon points="899.07,122.81 904.17,131.81 893.97,131.81" fill="#7a7a7a" stroke="#6a6a6a" stroke-width="0.7" stroke-linejoin="round"/>
<polygon points="924.44,111.19 929.54,120.19 919.34,120.19" fill="#7a7a7a" stroke="#6a6a6a" stroke-width="0.7" stroke-linejoin="round"/>
<polygon points="964.46,123.37 969.56,132.37 959.36,132.37" fill="#7a7a7a" stroke="#6a6a6a" stroke-width="0.7" stroke-linejoin="round"/>
<polygon points="980.84,119.52 985.94,128.52 975.74,128.52" fill="#7a7a7a" stroke="#6a6a6a" stroke-width="0.7" stroke-linejoin="round"/>
<polygon points="995.5,145.29 1000.6,154.29 990.4,154.29" fill="#7a7a7a" stroke="#6a6a6a" stroke-width="0.7" stroke-linejoin="round"/>
<polygon points="1020.86,156.77 1025.96,165.77 1015.76,165.77" fill="#7a7a7a" stroke="#6a6a6a" stroke-width="0.7" stroke-linejoin="round"/>
<polygon points="1042.31,135.28 1047.41,144.28 1037.21,144.28" fill="#7a7a7a" stroke="#6a6a6a" stroke-width="0.7" stroke-linejoin="round"/>
<polygon points="1042.31,178.9 1047.41,187.9 1037.21,187.9" fill="#7a7a7a" stroke="#6a6a6a" stroke-width="0.7" stroke-linejoin="round"/>
<polygon points="1084.79,183.8 1089.89,192.8 1079.69,192.8" fill="#7a7a7a" stroke="#6a6a6a" stroke-width="0.7" stroke-linejoin="round"/>
<polygon points="1117.29,211.53 1122.39,220.53 1112.19,220.53" fill="#7a7a7a" stroke="#6a6a6a" stroke-width="0.7" stroke-linejoin="round"/>
<polygon points="1152.9,218.11 1158,227.11 1147.8,227.11" fill="#7a7a7a" stroke="#6a6a6a" stroke-width="0.7" stroke-linejoin="round"/>
<polygon points="1163.69,215.73 1168.79,224.73 1158.59,224.73" fill="#7a7a7a" stroke="#6a6a6a" stroke-width="0.7" stroke-linejoin="round"/>
<polyline points="899.07,340.17 902.71,342.79 906.35,345.34 909.98,347.82 913.62,350.23 917.26,352.58 920.89,354.86 924.53,357.08 928.17,359.24 931.8,361.34 935.44,363.38 939.08,365.37 942.72,367.3 946.35,369.18 949.99,371.01 953.63,372.79 957.26,374.51 960.9,376.2 964.54,377.83 968.17,379.43 971.81,380.97 975.45,382.48 979.09,383.94 982.72,385.37 986.36,386.75 990,388.1 993.63,389.41 997.27,390.69 1000.91,391.93 1004.54,393.14 1008.18,394.31 1011.82,395.45 1015.46,396.56 1019.09,397.64 1022.73,398.69 1026.37,399.71 1030,400.71 1033.64,401.68 1037.28,402.62 1040.92,403.53 1044.55,404.42 1048.19,405.29 1051.83,406.13 1055.46,406.95 1059.1,407.74 1062.74,408.52 1066.37,409.27 1070.01,410 1073.65,410.72 1077.29,411.41 1080.92,412.08 1084.56,412.74 1088.2,413.38 1091.83,414 1095.47,414.6 1099.11,415.19 1102.74,415.76 1106.38,416.32 1110.02,416.86 1113.66,417.38 1117.29,417.89" fill="none" stroke="#4343a3" stroke-width="2" stroke-dasharray="8.400 8.800"/>
<line x1="828.01" y1="436.1" x2="828.01" y2="431.6" stroke="#2b2b2b" stroke-width="1.2" />
<line x1="828.01" y1="86" x2="828.01" y2="90.5" stroke="#2b2b2b" stroke-width="1.2" />
<line x1="868.03" y1="436.1" x2="868.03" y2="431.6" stroke="#2b2b2b" stroke-width="1.2" />
<line x1="868.03" y1="86" x2="868.03" y2="90.5" stroke="#2b2b2b" stroke-width="1.2" />
<line x1="899.07" y1="436.1" x2="899.07" y2="431.6" stroke="#2b2b2b" stroke-width="1.2" />
<line x1="899.07" y1="86" x2="899.07" y2="90.5" stroke="#2b2b2b" stroke-width="1.2" />
<line x1="924.44" y1="436.1" x2="924.44" y2="431.6" stroke="#2b2b2b" stroke-width="1.2" />
<line x1="924.44" y1="86" x2="924.44" y2="90.5" stroke="#2b2b2b" stroke-width="1.2" />
<line x1="964.46" y1="436.1" x2="964.46" y2="431.6" stroke="#2b2b2b" stroke-width="1.2" />
<line x1="964.46" y1="86" x2="964.46" y2="90.5" stroke="#2b2b2b" stroke-width="1.2" />
<line x1="995.5" y1="436.1" x2="995.5" y2="431.6" stroke="#2b2b2b" stroke-width="1.2" />
<line x1="995.5" y1="86" x2="995.5" y2="90.5" stroke="#2b2b2b" stroke-width="1.2" />
<line x1="1020.86" y1="436.1" x2="1020.86" y2="431.6" stroke="#2b2b2b" stroke-width="1.2" />
<line x1="1020.86" y1="86" x2="1020.86" y2="90.5" stroke="#2b2b2b" stroke-width="1.2" />
<line x1="1042.31" y1="436.1" x2="1042.31" y2="431.6" stroke="#2b2b2b" stroke-width="1.2" />
<line x1="1042.31" y1="86" x2="1042.31" y2="90.5" stroke="#2b2b2b" stroke-width="1.2" />
<line x1="1084.79" y1="436.1" x2="1084.79" y2="431.6" stroke="#2b2b2b" stroke-width="1.2" />
<line x1="1084.79" y1="86" x2="1084.79" y2="90.5" stroke="#2b2b2b" stroke-width="1.2" />
<line x1="1117.29" y1="436.1" x2="1117.29" y2="431.6" stroke="#2b2b2b" stroke-width="1.2" />
<line x1="1117.29" y1="86" x2="1117.29" y2="90.5" stroke="#2b2b2b" stroke-width="1.2" />
<line x1="1148.34" y1="436.1" x2="1148.34" y2="431.6" stroke="#2b2b2b" stroke-width="1.2" />
<line x1="1148.34" y1="86" x2="1148.34" y2="90.5" stroke="#2b2b2b" stroke-width="1.2" />
<line x1="784.86" y1="436.1" x2="784.86" y2="433.9" stroke="#2b2b2b" stroke-width="1" />
<line x1="784.86" y1="86" x2="784.86" y2="88.2" stroke="#2b2b2b" stroke-width="1" />
<line x1="796.96" y1="436.1" x2="796.96" y2="433.9" stroke="#2b2b2b" stroke-width="1" />
<line x1="796.96" y1="86" x2="796.96" y2="88.2" stroke="#2b2b2b" stroke-width="1" />
<line x1="808.1" y1="436.1" x2="808.1" y2="433.9" stroke="#2b2b2b" stroke-width="1" />
<line x1="808.1" y1="86" x2="808.1" y2="88.2" stroke="#2b2b2b" stroke-width="1" />
<line x1="818.41" y1="436.1" x2="818.41" y2="433.9" stroke="#2b2b2b" stroke-width="1" />
<line x1="818.41" y1="86" x2="818.41" y2="88.2" stroke="#2b2b2b" stroke-width="1" />
<line x1="836.99" y1="436.1" x2="836.99" y2="433.9" stroke="#2b2b2b" stroke-width="1" />
<line x1="836.99" y1="86" x2="836.99" y2="88.2" stroke="#2b2b2b" stroke-width="1" />
<line x1="845.42" y1="436.1" x2="845.42" y2="433.9" stroke="#2b2b2b" stroke-width="1" />
<line x1="845.42" y1="86" x2="845.42" y2="88.2" stroke="#2b2b2b" stroke-width="1" />
<line x1="853.37" y1="436.1" x2="853.37" y2="433.9" stroke="#2b2b2b" stroke-width="1" />
<line x1="853.37" y1="86" x2="853.37" y2="88.2" stroke="#2b2b2b" stroke-width="1" />
<line x1="860.89" y1="436.1" x2="860.89" y2="433.9" stroke="#2b2b2b" stroke-width="1" />
<line x1="860.89" y1="86" x2="860.89" y2="88.2" stroke="#2b2b2b" stroke-width="1" />
<line x1="874.82" y1="436.1" x2="874.82" y2="433.9" stroke="#2b2b2b" stroke-width="1" />
<line x1="874.82" y1="86" x2="874.82" y2="88.2" stroke="#2b2b2b" stroke-width="1" />
<line x1="881.29" y1="436.1" x2="881.29" y2="433.9" stroke="#2b2b2b" stroke-width="1" />
<line x1="881.29" y1="86" x2="881.29" y2="88.2" stroke="#2b2b2b" stroke-width="1" />
<line x1="887.47" y1="436.1" x2="887.47" y2="433.9" stroke="#2b2b2b" stroke-width="1" />
<line x1="887.47" y1="86" x2="887.47" y2="88.2" stroke="#2b2b2b" stroke-width="1" />
<line x1="893.39" y1="436.1" x2="893.39" y2="433.9" stroke="#2b2b2b" stroke-width="1" />
<line x1="893.39" y1="86" x2="893.39" y2="88.2" stroke="#2b2b2b" stroke-width="1" />
<line x1="904.53" y1="436.1" x2="904.53" y2="433.9" stroke="#2b2b2b" stroke-width="1" />
<line x1="904.53" y1="86" x2="904.53" y2="88.2" stroke="#2b2b2b" stroke-width="1" />
<line x1="909.78" y1="436.1" x2="909.78" y2="433.9" stroke="#2b2b2b" stroke-width="1" />
<line x1="909.78" y1="86" x2="909.78" y2="88.2" stroke="#2b2b2b" stroke-width="1" />
<line x1="914.84" y1="436.1" x2="914.84" y2="433.9" stroke="#2b2b2b" stroke-width="1" />
<line x1="914.84" y1="86" x2="914.84" y2="88.2" stroke="#2b2b2b" stroke-width="1" />
<line x1="919.72" y1="436.1" x2="919.72" y2="433.9" stroke="#2b2b2b" stroke-width="1" />
<line x1="919.72" y1="86" x2="919.72" y2="88.2" stroke="#2b2b2b" stroke-width="1" />
<line x1="935.57" y1="436.1" x2="935.57" y2="433.9" stroke="#2b2b2b" stroke-width="1" />
<line x1="935.57" y1="86" x2="935.57" y2="88.2" stroke="#2b2b2b" stroke-width="1" />
<line x1="945.88" y1="436.1" x2="945.88" y2="433.9" stroke="#2b2b2b" stroke-width="1" />
<line x1="945.88" y1="86" x2="945.88" y2="88.2" stroke="#2b2b2b" stroke-width="1" />
<line x1="955.48" y1="436.1" x2="955.48" y2="433.9" stroke="#2b2b2b" stroke-width="1" />
<line x1="955.48" y1="86" x2="955.48" y2="88.2" stroke="#2b2b2b" stroke-width="1" />
<line x1="972.89" y1="436.1" x2="972.89" y2="433.9" stroke="#2b2b2b" stroke-width="1" />
<line x1="972.89" y1="86" x2="972.89" y2="88.2" stroke="#2b2b2b" stroke-width="1" />
<line x1="980.84" y1="436.1" x2="980.84" y2="433.9" stroke="#2b2b2b" stroke-width="1" />
<line x1="980.84" y1="86" x2="980.84" y2="88.2" stroke="#2b2b2b" stroke-width="1" />
<line x1="988.36" y1="436.1" x2="988.36" y2="433.9" stroke="#2b2b2b" stroke-width="1" />
<line x1="988.36" y1="86" x2="988.36" y2="88.2" stroke="#2b2b2b" stroke-width="1" />
<line x1="1002.29" y1="436.1" x2="1002.29" y2="433.9" stroke="#2b2b2b" stroke-width="1" />
<line x1="1002.29" y1="86" x2="1002.29" y2="88.2" stroke="#2b2b2b" stroke-width="1" />
<line x1="1008.76" y1="436.1" x2="1008.76" y2="433.9" stroke="#2b2b2b" stroke-width="1" />
<line x1="1008.76" y1="86" x2="1008.76" y2="88.2" stroke="#2b2b2b" stroke-width="1" />
<line x1="1014.94" y1="436.1" x2="1014.94" y2="433.9" stroke="#2b2b2b" stroke-width="1" />
<line x1="1014.94" y1="86" x2="1014.94" y2="88.2" stroke="#2b2b2b" stroke-width="1" />
<line x1="1026.54" y1="436.1" x2="1026.54" y2="433.9" stroke="#2b2b2b" stroke-width="1" />
<line x1="1026.54" y1="86" x2="1026.54" y2="88.2" stroke="#2b2b2b" stroke-width="1" />
<line x1="1032" y1="436.1" x2="1032" y2="433.9" stroke="#2b2b2b" stroke-width="1" />
<line x1="1032" y1="86" x2="1032" y2="88.2" stroke="#2b2b2b" stroke-width="1" />
<line x1="1037.25" y1="436.1" x2="1037.25" y2="433.9" stroke="#2b2b2b" stroke-width="1" />
<line x1="1037.25" y1="86" x2="1037.25" y2="88.2" stroke="#2b2b2b" stroke-width="1" />
<line x1="1051.91" y1="436.1" x2="1051.91" y2="433.9" stroke="#2b2b2b" stroke-width="1" />
<line x1="1051.91" y1="86" x2="1051.91" y2="88.2" stroke="#2b2b2b" stroke-width="1" />
<line x1="1060.89" y1="436.1" x2="1060.89" y2="433.9" stroke="#2b2b2b" stroke-width="1" />
<line x1="1060.89" y1="86" x2="1060.89" y2="88.2" stroke="#2b2b2b" stroke-width="1" />
<line x1="1069.32" y1="436.1" x2="1069.32" y2="433.9" stroke="#2b2b2b" stroke-width="1" />
<line x1="1069.32" y1="86" x2="1069.32" y2="88.2" stroke="#2b2b2b" stroke-width="1" />
<line x1="1077.27" y1="436.1" x2="1077.27" y2="433.9" stroke="#2b2b2b" stroke-width="1" />
<line x1="1077.27" y1="86" x2="1077.27" y2="88.2" stroke="#2b2b2b" stroke-width="1" />
<line x1="1091.93" y1="436.1" x2="1091.93" y2="433.9" stroke="#2b2b2b" stroke-width="1" />
<line x1="1091.93" y1="86" x2="1091.93" y2="88.2" stroke="#2b2b2b" stroke-width="1" />
<line x1="1098.72" y1="436.1" x2="1098.72" y2="433.9" stroke="#2b2b2b" stroke-width="1" />
<line x1="1098.72" y1="86" x2="1098.72" y2="88.2" stroke="#2b2b2b" stroke-width="1" />
<line x1="1105.19" y1="436.1" x2="1105.19" y2="433.9" stroke="#2b2b2b" stroke-width="1" />
<line x1="1105.19" y1="86" x2="1105.19" y2="88.2" stroke="#2b2b2b" stroke-width="1" />
<line x1="1111.37" y1="436.1" x2="1111.37" y2="433.9" stroke="#2b2b2b" stroke-width="1" />
<line x1="1111.37" y1="86" x2="1111.37" y2="88.2" stroke="#2b2b2b" stroke-width="1" />
<line x1="1122.97" y1="436.1" x2="1122.97" y2="433.9" stroke="#2b2b2b" stroke-width="1" />
<line x1="1122.97" y1="86" x2="1122.97" y2="88.2" stroke="#2b2b2b" stroke-width="1" />
<line x1="1128.43" y1="436.1" x2="1128.43" y2="433.9" stroke="#2b2b2b" stroke-width="1" />
<line x1="1128.43" y1="86" x2="1128.43" y2="88.2" stroke="#2b2b2b" stroke-width="1" />
<line x1="1133.68" y1="436.1" x2="1133.68" y2="433.9" stroke="#2b2b2b" stroke-width="1" />
<line x1="1133.68" y1="86" x2="1133.68" y2="88.2" stroke="#2b2b2b" stroke-width="1" />
<line x1="1138.74" y1="436.1" x2="1138.74" y2="433.9" stroke="#2b2b2b" stroke-width="1" />
<line x1="1138.74" y1="86" x2="1138.74" y2="88.2" stroke="#2b2b2b" stroke-width="1" />
<line x1="1143.62" y1="436.1" x2="1143.62" y2="433.9" stroke="#2b2b2b" stroke-width="1" />
<line x1="1143.62" y1="86" x2="1143.62" y2="88.2" stroke="#2b2b2b" stroke-width="1" />
<line x1="1152.9" y1="436.1" x2="1152.9" y2="433.9" stroke="#2b2b2b" stroke-width="1" />
<line x1="1152.9" y1="86" x2="1152.9" y2="88.2" stroke="#2b2b2b" stroke-width="1" />
<line x1="1157.31" y1="436.1" x2="1157.31" y2="433.9" stroke="#2b2b2b" stroke-width="1" />
<line x1="1157.31" y1="86" x2="1157.31" y2="88.2" stroke="#2b2b2b" stroke-width="1" />
<line x1="1161.59" y1="436.1" x2="1161.59" y2="433.9" stroke="#2b2b2b" stroke-width="1" />
<line x1="1161.59" y1="86" x2="1161.59" y2="88.2" stroke="#2b2b2b" stroke-width="1" />
<line x1="1165.75" y1="436.1" x2="1165.75" y2="433.9" stroke="#2b2b2b" stroke-width="1" />
<line x1="1165.75" y1="86" x2="1165.75" y2="88.2" stroke="#2b2b2b" stroke-width="1" />
<line x1="1169.78" y1="436.1" x2="1169.78" y2="433.9" stroke="#2b2b2b" stroke-width="1" />
<line x1="1169.78" y1="86" x2="1169.78" y2="88.2" stroke="#2b2b2b" stroke-width="1" />
<line x1="1173.7" y1="436.1" x2="1173.7" y2="433.9" stroke="#2b2b2b" stroke-width="1" />
<line x1="1173.7" y1="86" x2="1173.7" y2="88.2" stroke="#2b2b2b" stroke-width="1" />
<line x1="1177.51" y1="436.1" x2="1177.51" y2="433.9" stroke="#2b2b2b" stroke-width="1" />
<line x1="1177.51" y1="86" x2="1177.51" y2="88.2" stroke="#2b2b2b" stroke-width="1" />
<line x1="1181.22" y1="436.1" x2="1181.22" y2="433.9" stroke="#2b2b2b" stroke-width="1" />
<line x1="1181.22" y1="86" x2="1181.22" y2="88.2" stroke="#2b2b2b" stroke-width="1" />
<line x1="1184.83" y1="436.1" x2="1184.83" y2="433.9" stroke="#2b2b2b" stroke-width="1" />
<line x1="1184.83" y1="86" x2="1184.83" y2="88.2" stroke="#2b2b2b" stroke-width="1" />
<line x1="1188.36" y1="436.1" x2="1188.36" y2="433.9" stroke="#2b2b2b" stroke-width="1" />
<line x1="1188.36" y1="86" x2="1188.36" y2="88.2" stroke="#2b2b2b" stroke-width="1" />
<line x1="1191.79" y1="436.1" x2="1191.79" y2="433.9" stroke="#2b2b2b" stroke-width="1" />
<line x1="1191.79" y1="86" x2="1191.79" y2="88.2" stroke="#2b2b2b" stroke-width="1" />
<line x1="1195.14" y1="436.1" x2="1195.14" y2="433.9" stroke="#2b2b2b" stroke-width="1" />
<line x1="1195.14" y1="86" x2="1195.14" y2="88.2" stroke="#2b2b2b" stroke-width="1" />
<line x1="1198.42" y1="436.1" x2="1198.42" y2="433.9" stroke="#2b2b2b" stroke-width="1" />
<line x1="1198.42" y1="86" x2="1198.42" y2="88.2" stroke="#2b2b2b" stroke-width="1" />
<line x1="1201.62" y1="436.1" x2="1201.62" y2="433.9" stroke="#2b2b2b" stroke-width="1" />
<line x1="1201.62" y1="86" x2="1201.62" y2="88.2" stroke="#2b2b2b" stroke-width="1" />
<line x1="1204.74" y1="436.1" x2="1204.74" y2="433.9" stroke="#2b2b2b" stroke-width="1" />
<line x1="1204.74" y1="86" x2="1204.74" y2="88.2" stroke="#2b2b2b" stroke-width="1" />
<line x1="1207.8" y1="436.1" x2="1207.8" y2="433.9" stroke="#2b2b2b" stroke-width="1" />
<line x1="1207.8" y1="86" x2="1207.8" y2="88.2" stroke="#2b2b2b" stroke-width="1" />
<line x1="1210.79" y1="436.1" x2="1210.79" y2="433.9" stroke="#2b2b2b" stroke-width="1" />
<line x1="1210.79" y1="86" x2="1210.79" y2="88.2" stroke="#2b2b2b" stroke-width="1" />
<line x1="1213.72" y1="436.1" x2="1213.72" y2="433.9" stroke="#2b2b2b" stroke-width="1" />
<line x1="1213.72" y1="86" x2="1213.72" y2="88.2" stroke="#2b2b2b" stroke-width="1" />
<line x1="1216.59" y1="436.1" x2="1216.59" y2="433.9" stroke="#2b2b2b" stroke-width="1" />
<line x1="1216.59" y1="86" x2="1216.59" y2="88.2" stroke="#2b2b2b" stroke-width="1" />
<line x1="771.6" y1="436.1" x2="776.1" y2="436.1" stroke="#2b2b2b" stroke-width="1.2" />
<line x1="771.6" y1="366.08" x2="776.1" y2="366.08" stroke="#2b2b2b" stroke-width="1.2" />
<line x1="771.6" y1="296.06" x2="776.1" y2="296.06" stroke="#2b2b2b" stroke-width="1.2" />
<line x1="771.6" y1="226.04" x2="776.1" y2="226.04" stroke="#2b2b2b" stroke-width="1.2" />
<line x1="771.6" y1="156.02" x2="776.1" y2="156.02" stroke="#2b2b2b" stroke-width="1.2" />
<line x1="771.6" y1="86" x2="776.1" y2="86" stroke="#2b2b2b" stroke-width="1.2" />
<line x1="1219.4" y1="296.06" x2="1214.9" y2="296.06" stroke="#555" stroke-width="1.2" />
<line x1="1219.4" y1="226.04" x2="1214.9" y2="226.04" stroke="#555" stroke-width="1.2" />
<line x1="1219.4" y1="156.02" x2="1214.9" y2="156.02" stroke="#555" stroke-width="1.2" />
<line x1="1219.4" y1="121.01" x2="1214.9" y2="121.01" stroke="#555" stroke-width="1.2" />
<line x1="1219.4" y1="100" x2="1214.9" y2="100" stroke="#555" stroke-width="1.2" />
<line x1="771.6" y1="86" x2="1219.4" y2="86" stroke="#2b2b2b" stroke-width="1.4" />
<line x1="771.6" y1="436.1" x2="1219.4" y2="436.1" stroke="#2b2b2b" stroke-width="1.4" />
<line x1="771.6" y1="86" x2="771.6" y2="436.1" stroke="#2b2b2b" stroke-width="1.4" />
<line x1="1219.4" y1="86" x2="1219.4" y2="436.1" stroke="#6a6a6a" stroke-width="1.4" />
<text x="822.17" y="466.5" font-family="Liberation Sans, sans-serif" font-size="21" font-weight="bold" font-style="normal" fill="#000" transform="matrix(1,0,0,1.03,0,-14)" >3</text>
<text x="862.19" y="466.5" font-family="Liberation Sans, sans-serif" font-size="21" font-weight="bold" font-style="normal" fill="#000" transform="matrix(1,0,0,1.03,0,-14)" >4</text>
<text x="893.23" y="466.5" font-family="Liberation Sans, sans-serif" font-size="21" font-weight="bold" font-style="normal" fill="#000" transform="matrix(1,0,0,1.03,0,-14)" >5</text>
<text x="918.6" y="466.5" font-family="Liberation Sans, sans-serif" font-size="21" font-weight="bold" font-style="normal" fill="#000" transform="matrix(1,0,0,1.03,0,-14)" >6</text>
<text x="958.62" y="466.5" font-family="Liberation Sans, sans-serif" font-size="21" font-weight="bold" font-style="normal" fill="#000" transform="matrix(1,0,0,1.03,0,-14)" >8</text>
<path d="M478,0L478,1170L140,959L140,1180L493,1409L759,1409L759,0Z" transform="translate(983.82,466.5) scale(0.01025,-0.01056)" fill="#000" />
<text x="995.5" y="466.5" font-family="Liberation Sans, sans-serif" font-size="21" font-weight="bold" font-style="normal" fill="#000" transform="matrix(1,0,0,1.03,0,-14)" >0</text>
<path d="M478,0L478,1170L140,959L140,1180L493,1409L759,1409L759,0Z" transform="translate(1009.18,466.5) scale(0.01025,-0.01056)" fill="#000" />
<text x="1020.86" y="466.5" font-family="Liberation Sans, sans-serif" font-size="21" font-weight="bold" font-style="normal" fill="#000" transform="matrix(1,0,0,1.03,0,-14)" >2</text>
<path d="M478,0L478,1170L140,959L140,1180L493,1409L759,1409L759,0Z" transform="translate(1030.63,466.5) scale(0.01025,-0.01056)" fill="#000" />
<text x="1042.31" y="466.5" font-family="Liberation Sans, sans-serif" font-size="21" font-weight="bold" font-style="normal" fill="#000" transform="matrix(1,0,0,1.03,0,-14)" >4</text>
<path d="M478,0L478,1170L140,959L140,1180L493,1409L759,1409L759,0Z" transform="translate(1073.11,466.5) scale(0.01025,-0.01056)" fill="#000" />
<text x="1084.79" y="466.5" font-family="Liberation Sans, sans-serif" font-size="21" font-weight="bold" font-style="normal" fill="#000" transform="matrix(1,0,0,1.03,0,-14)" >9</text>
<text x="1105.61" y="466.5" font-family="Liberation Sans, sans-serif" font-size="21" font-weight="bold" font-style="normal" fill="#000" transform="matrix(1,0,0,1.03,0,-14)" >24</text>
<text x="1136.66" y="466.5" font-family="Liberation Sans, sans-serif" font-size="21" font-weight="bold" font-style="normal" fill="#000" transform="matrix(1,0,0,1.03,0,-14)" >30</text>
<text x="750.72" y="444.6" font-family="Liberation Sans, sans-serif" font-size="21" font-weight="bold" font-style="normal" fill="#000" transform="matrix(1,0,0,1.03,0,-13.34)" >0</text>
<text x="721.53" y="374.58" font-family="Liberation Sans, sans-serif" font-size="21" font-weight="bold" font-style="normal" fill="#000" transform="matrix(1,0,0,1.03,0,-11.24)" >0.0</text>
<path d="M478,0L478,1170L140,959L140,1180L493,1409L759,1409L759,0Z" transform="translate(750.72,374.58) scale(0.01025,-0.01056)" fill="#000" />
<text x="721.53" y="304.56" font-family="Liberation Sans, sans-serif" font-size="21" font-weight="bold" font-style="normal" fill="#000" transform="matrix(1,0,0,1.03,0,-9.14)" >0.02</text>
<text x="721.53" y="234.54" font-family="Liberation Sans, sans-serif" font-size="21" font-weight="bold" font-style="normal" fill="#000" transform="matrix(1,0,0,1.03,0,-7.04)" >0.03</text>
<text x="721.53" y="164.52" font-family="Liberation Sans, sans-serif" font-size="21" font-weight="bold" font-style="normal" fill="#000" transform="matrix(1,0,0,1.03,0,-4.94)" >0.04</text>
<text x="721.53" y="94.5" font-family="Liberation Sans, sans-serif" font-size="21" font-weight="bold" font-style="normal" fill="#000" transform="matrix(1,0,0,1.03,0,-2.84)" >0.05</text>
<text x="1227.58" y="304.26" font-family="Liberation Sans, sans-serif" font-size="21" font-weight="normal" font-style="normal" fill="#262626" transform="matrix(1,0,0,1.03,0,-9.13)" stroke="#262626" stroke-width="0.7">0.7</text>
<text x="1227.58" y="234.24" font-family="Liberation Sans, sans-serif" font-size="21" font-weight="normal" font-style="normal" fill="#262626" transform="matrix(1,0,0,1.03,0,-7.03)" stroke="#262626" stroke-width="0.7">0.8</text>
<text x="1227.58" y="164.22" font-family="Liberation Sans, sans-serif" font-size="21" font-weight="normal" font-style="normal" fill="#262626" transform="matrix(1,0,0,1.03,0,-4.93)" stroke="#262626" stroke-width="0.7">0.9</text>
<text x="1227.58" y="129.21" font-family="Liberation Sans, sans-serif" font-size="21" font-weight="normal" font-style="normal" fill="#262626" transform="matrix(1,0,0,1.03,0,-3.88)" stroke="#262626" stroke-width="0.7">0.95</text>
<text x="1227.58" y="108.2" font-family="Liberation Sans, sans-serif" font-size="21" font-weight="normal" font-style="normal" fill="#262626" transform="matrix(1,0,0,1.03,0,-3.25)" stroke="#262626" stroke-width="0.7">0.98</text>
<line x1="262.44" y1="619.4" x2="262.44" y2="970.5" stroke="#d6d6d6" stroke-width="1.1" stroke-dasharray="1.5 1.0"/>
<line x1="297.43" y1="619.4" x2="297.43" y2="970.5" stroke="#d6d6d6" stroke-width="1.1" stroke-dasharray="1.5 1.0"/>
<line x1="408.61" y1="619.4" x2="408.61" y2="970.5" stroke="#d6d6d6" stroke-width="1.1" stroke-dasharray="1.5 1.0"/>
<line x1="505.13" y1="619.4" x2="505.13" y2="970.5" stroke="#d6d6d6" stroke-width="1.1" stroke-dasharray="1.5 1.0"/>
<line x1="144.46" y1="619.4" x2="144.46" y2="970.5" stroke="#e0e0e0" stroke-width="1.2" />
<line x1="184.51" y1="619.4" x2="184.51" y2="970.5" stroke="#e0e0e0" stroke-width="1.2" />
<line x1="215.59" y1="619.4" x2="215.59" y2="970.5" stroke="#e0e0e0" stroke-width="1.2" />
<line x1="240.97" y1="619.4" x2="240.97" y2="970.5" stroke="#e0e0e0" stroke-width="1.2" />
<line x1="281.03" y1="619.4" x2="281.03" y2="970.5" stroke="#e0e0e0" stroke-width="1.2" />
<line x1="312.1" y1="619.4" x2="312.1" y2="970.5" stroke="#e0e0e0" stroke-width="1.2" />
<line x1="337.49" y1="619.4" x2="337.49" y2="970.5" stroke="#e0e0e0" stroke-width="1.2" />
<line x1="358.95" y1="619.4" x2="358.95" y2="970.5" stroke="#e0e0e0" stroke-width="1.2" />
<line x1="401.47" y1="619.4" x2="401.47" y2="970.5" stroke="#e0e0e0" stroke-width="1.2" />
<line x1="434" y1="619.4" x2="434" y2="970.5" stroke="#e0e0e0" stroke-width="1.2" />
<line x1="465.07" y1="619.4" x2="465.07" y2="970.5" stroke="#e0e0e0" stroke-width="1.2" />
<line x1="88" y1="939.59" x2="536.2" y2="939.59" stroke="#dadada" stroke-width="1.1" stroke-dasharray="1.5 1.0"/>
<line x1="88" y1="917.65" x2="536.2" y2="917.65" stroke="#dadada" stroke-width="1.1" stroke-dasharray="1.5 1.0"/>
<line x1="88" y1="900.64" x2="536.2" y2="900.64" stroke="#dadada" stroke-width="1.1" stroke-dasharray="1.5 1.0"/>
<line x1="88" y1="886.74" x2="536.2" y2="886.74" stroke="#dadada" stroke-width="1.1" stroke-dasharray="1.5 1.0"/>
<line x1="88" y1="874.99" x2="536.2" y2="874.99" stroke="#dadada" stroke-width="1.1" stroke-dasharray="1.5 1.0"/>
<line x1="88" y1="864.81" x2="536.2" y2="864.81" stroke="#dadada" stroke-width="1.1" stroke-dasharray="1.5 1.0"/>
<line x1="88" y1="855.83" x2="536.2" y2="855.83" stroke="#dadada" stroke-width="1.1" stroke-dasharray="1.5 1.0"/>
<line x1="88" y1="794.95" x2="536.2" y2="794.95" stroke="#dadada" stroke-width="1.1" stroke-dasharray="1.5 1.0"/>
<line x1="88" y1="764.04" x2="536.2" y2="764.04" stroke="#dadada" stroke-width="1.1" stroke-dasharray="1.5 1.0"/>
<line x1="88" y1="742.1" x2="536.2" y2="742.1" stroke="#dadada" stroke-width="1.1" stroke-dasharray="1.5 1.0"/>
<line x1="88" y1="725.09" x2="536.2" y2="725.09" stroke="#dadada" stroke-width="1.1" stroke-dasharray="1.5 1.0"/>
<line x1="88" y1="711.19" x2="536.2" y2="711.19" stroke="#dadada" stroke-width="1.1" stroke-dasharray="1.5 1.0"/>
<line x1="88" y1="699.44" x2="536.2" y2="699.44" stroke="#dadada" stroke-width="1.1" stroke-dasharray="1.5 1.0"/>
<line x1="88" y1="689.26" x2="536.2" y2="689.26" stroke="#dadada" stroke-width="1.1" stroke-dasharray="1.5 1.0"/>
<line x1="88" y1="680.28" x2="536.2" y2="680.28" stroke="#dadada" stroke-width="1.1" stroke-dasharray="1.5 1.0"/>
<line x1="88" y1="847.8" x2="536.2" y2="847.8" stroke="#d8d8d8" stroke-width="1.4" />
<line x1="88" y1="672.25" x2="536.2" y2="672.25" stroke="#d8d8d8" stroke-width="1.4" />
<circle cx="240.97" cy="765.45" r="5.2" fill="#ed1c24" stroke="#6a1c1c" stroke-width="1.0"/>
<circle cx="312.1" cy="798.06" r="5.2" fill="#ed1c24" stroke="#6a1c1c" stroke-width="1.0"/>
<circle cx="469.64" cy="847.57" r="5.2" fill="#ed1c24" stroke="#6a1c1c" stroke-width="1.0"/>
<circle cx="165.92" cy="695.46" r="5.2" fill="#cbdb2a" stroke="#55573a" stroke-width="1.0"/>
<circle cx="215.59" cy="730.48" r="5.2" fill="#cbdb2a" stroke="#55573a" stroke-width="1.0"/>
<circle cx="297.43" cy="795.14" r="5.2" fill="#cbdb2a" stroke="#55573a" stroke-width="1.0"/>
<circle cx="358.95" cy="812.44" r="5.2" fill="#cbdb2a" stroke="#55573a" stroke-width="1.0"/>
<circle cx="401.47" cy="837.14" r="5.2" fill="#cbdb2a" stroke="#55573a" stroke-width="1.0"/>
<circle cx="215.59" cy="771.03" r="5.2" fill="#3d68b4" stroke="#283a66" stroke-width="1.0"/>
<circle cx="281.03" cy="813.65" r="5.2" fill="#3d68b4" stroke="#283a66" stroke-width="1.0"/>
<circle cx="337.49" cy="835.83" r="5.2" fill="#3d68b4" stroke="#283a66" stroke-width="1.0"/>
<circle cx="401.47" cy="853.33" r="5.2" fill="#3d68b4" stroke="#283a66" stroke-width="1.0"/>
<circle cx="434" cy="870.24" r="5.2" fill="#3d68b4" stroke="#283a66" stroke-width="1.0"/>
<circle cx="480.44" cy="880.64" r="5.2" fill="#3d68b4" stroke="#283a66" stroke-width="1.0"/>
<polygon points="165.92,724.02 171.02,733.02 160.82,733.02" fill="#7a7a7a" stroke="#6a6a6a" stroke-width="0.7" stroke-linejoin="round"/>
<polygon points="215.59,721.7 220.69,730.7 210.49,730.7" fill="#7a7a7a" stroke="#6a6a6a" stroke-width="0.7" stroke-linejoin="round"/>
<polygon points="215.59,738.28 220.69,747.28 210.49,747.28" fill="#7a7a7a" stroke="#6a6a6a" stroke-width="0.7" stroke-linejoin="round"/>
<polygon points="240.97,688.42 246.07,697.42 235.87,697.42" fill="#7a7a7a" stroke="#6a6a6a" stroke-width="0.7" stroke-linejoin="round"/>
<polygon points="281.03,676.48 286.13,685.48 275.93,685.48" fill="#7a7a7a" stroke="#6a6a6a" stroke-width="0.7" stroke-linejoin="round"/>
<polygon points="297.43,642.15 302.53,651.15 292.33,651.15" fill="#7a7a7a" stroke="#6a6a6a" stroke-width="0.7" stroke-linejoin="round"/>
<polygon points="312.1,648.39 317.2,657.39 307,657.39" fill="#7a7a7a" stroke="#6a6a6a" stroke-width="0.7" stroke-linejoin="round"/>
<polygon points="337.49,651.91 342.59,660.91 332.39,660.91" fill="#7a7a7a" stroke="#6a6a6a" stroke-width="0.7" stroke-linejoin="round"/>
<polygon points="358.95,632.03 364.05,641.03 353.85,641.03" fill="#7a7a7a" stroke="#6a6a6a" stroke-width="0.7" stroke-linejoin="round"/>
<polygon points="358.95,642.85 364.05,651.85 353.85,651.85" fill="#7a7a7a" stroke="#6a6a6a" stroke-width="0.7" stroke-linejoin="round"/>
<polygon points="401.47,637.79 406.57,646.79 396.37,646.79" fill="#7a7a7a" stroke="#6a6a6a" stroke-width="0.7" stroke-linejoin="round"/>
<polygon points="401.47,645.87 406.57,654.87 396.37,654.87" fill="#7a7a7a" stroke="#6a6a6a" stroke-width="0.7" stroke-linejoin="round"/>
<polygon points="434,650.29 439.1,659.29 428.9,659.29" fill="#7a7a7a" stroke="#6a6a6a" stroke-width="0.7" stroke-linejoin="round"/>
<polygon points="469.64,651.91 474.74,660.91 464.54,660.91" fill="#7a7a7a" stroke="#6a6a6a" stroke-width="0.7" stroke-linejoin="round"/>
<polygon points="480.44,659.14 485.54,668.14 475.34,668.14" fill="#7a7a7a" stroke="#6a6a6a" stroke-width="0.7" stroke-linejoin="round"/>
<polyline points="283.1,789.93 286.44,791.03 289.78,792.13 293.11,793.22 296.45,794.32 299.79,795.41 303.12,796.51 306.46,797.6 309.8,798.7 313.13,799.79 316.47,800.89 319.81,801.98 323.15,803.08 326.48,804.17 329.82,805.27 333.16,806.37 336.49,807.46 339.83,808.56 343.17,809.65 346.5,810.75 349.84,811.84 353.18,812.94 356.51,814.03 359.85,815.13 363.19,816.22 366.52,817.32 369.86,818.42 373.2,819.51 376.54,820.61 379.87,821.7 383.21,822.8 386.55,823.89 389.88,824.99 393.22,826.08 396.56,827.18 399.89,828.27 403.23,829.37 406.57,830.46 409.9,831.56 413.24,832.66 416.58,833.75 419.92,834.85 423.25,835.94 426.59,837.04 429.93,838.13 433.26,839.23 436.6,840.32 439.94,841.42 443.27,842.51 446.61,843.61 449.95,844.71 453.28,845.8 456.62,846.9 459.96,847.99 463.3,849.09 466.63,850.18 469.97,851.28 473.31,852.37 476.64,853.47 479.98,854.56 483.32,855.66" fill="none" stroke="#ea7a1e" stroke-width="2" stroke-dasharray="8.106 9.322"/>
<polyline points="266.74,809.62 270.45,810.9 274.15,812.17 277.85,813.45 281.56,814.73 285.26,816.01 288.96,817.29 292.66,818.57 296.37,819.85 300.07,821.13 303.77,822.41 307.47,823.69 311.18,824.97 314.88,826.24 318.58,827.52 322.28,828.8 325.99,830.08 329.69,831.36 333.39,832.64 337.09,833.92 340.8,835.2 344.5,836.48 348.2,837.76 351.91,839.04 355.61,840.31 359.31,841.59 363.01,842.87 366.72,844.15 370.42,845.43 374.12,846.71 377.82,847.99 381.53,849.27 385.23,850.55 388.93,851.83 392.63,853.11 396.34,854.38 400.04,855.66 403.74,856.94 407.45,858.22 411.15,859.5 414.85,860.78 418.55,862.06 422.26,863.34 425.96,864.62 429.66,865.9 433.36,867.17 437.07,868.45 440.77,869.73 444.47,871.01 448.17,872.29 451.88,873.57 455.58,874.85 459.28,876.13 462.98,877.41 466.69,878.69 470.39,879.97 474.09,881.24 477.8,882.52 481.5,883.8 485.2,885.08 488.9,886.36" fill="none" stroke="#3a5fb8" stroke-width="2" stroke-dasharray="7.755 8.919"/>
<line x1="144.46" y1="970.5" x2="144.46" y2="966" stroke="#2b2b2b" stroke-width="1.2" />
<line x1="144.46" y1="619.4" x2="144.46" y2="623.9" stroke="#2b2b2b" stroke-width="1.2" />
<line x1="184.51" y1="970.5" x2="184.51" y2="966" stroke="#2b2b2b" stroke-width="1.2" />
<line x1="184.51" y1="619.4" x2="184.51" y2="623.9" stroke="#2b2b2b" stroke-width="1.2" />
<line x1="215.59" y1="970.5" x2="215.59" y2="966" stroke="#2b2b2b" stroke-width="1.2" />
<line x1="215.59" y1="619.4" x2="215.59" y2="623.9" stroke="#2b2b2b" stroke-width="1.2" />
<line x1="240.97" y1="970.5" x2="240.97" y2="966" stroke="#2b2b2b" stroke-width="1.2" />
<line x1="240.97" y1="619.4" x2="240.97" y2="623.9" stroke="#2b2b2b" stroke-width="1.2" />
<line x1="281.03" y1="970.5" x2="281.03" y2="966" stroke="#2b2b2b" stroke-width="1.2" />
<line x1="281.03" y1="619.4" x2="281.03" y2="623.9" stroke="#2b2b2b" stroke-width="1.2" />
<line x1="312.1" y1="970.5" x2="312.1" y2="966" stroke="#2b2b2b" stroke-width="1.2" />
<line x1="312.1" y1="619.4" x2="312.1" y2="623.9" stroke="#2b2b2b" stroke-width="1.2" />
<line x1="337.49" y1="970.5" x2="337.49" y2="966" stroke="#2b2b2b" stroke-width="1.2" />
<line x1="337.49" y1="619.4" x2="337.49" y2="623.9" stroke="#2b2b2b" stroke-width="1.2" />
<line x1="358.95" y1="970.5" x2="358.95" y2="966" stroke="#2b2b2b" stroke-width="1.2" />
<line x1="358.95" y1="619.4" x2="358.95" y2="623.9" stroke="#2b2b2b" stroke-width="1.2" />
<line x1="401.47" y1="970.5" x2="401.47" y2="966" stroke="#2b2b2b" stroke-width="1.2" />
<line x1="401.47" y1="619.4" x2="401.47" y2="623.9" stroke="#2b2b2b" stroke-width="1.2" />
<line x1="434" y1="970.5" x2="434" y2="966" stroke="#2b2b2b" stroke-width="1.2" />
<line x1="434" y1="619.4" x2="434" y2="623.9" stroke="#2b2b2b" stroke-width="1.2" />
<line x1="465.07" y1="970.5" x2="465.07" y2="966" stroke="#2b2b2b" stroke-width="1.2" />
<line x1="465.07" y1="619.4" x2="465.07" y2="623.9" stroke="#2b2b2b" stroke-width="1.2" />
<line x1="88" y1="970.5" x2="88" y2="968.3" stroke="#2b2b2b" stroke-width="1" />
<line x1="88" y1="619.4" x2="88" y2="621.6" stroke="#2b2b2b" stroke-width="1" />
<line x1="144.46" y1="970.5" x2="144.46" y2="968.3" stroke="#2b2b2b" stroke-width="1" />
<line x1="144.46" y1="619.4" x2="144.46" y2="621.6" stroke="#2b2b2b" stroke-width="1" />
<line x1="184.51" y1="970.5" x2="184.51" y2="968.3" stroke="#2b2b2b" stroke-width="1" />
<line x1="184.51" y1="619.4" x2="184.51" y2="621.6" stroke="#2b2b2b" stroke-width="1" />
<line x1="215.59" y1="970.5" x2="215.59" y2="968.3" stroke="#2b2b2b" stroke-width="1" />
<line x1="215.59" y1="619.4" x2="215.59" y2="621.6" stroke="#2b2b2b" stroke-width="1" />
<line x1="240.97" y1="970.5" x2="240.97" y2="968.3" stroke="#2b2b2b" stroke-width="1" />
<line x1="240.97" y1="619.4" x2="240.97" y2="621.6" stroke="#2b2b2b" stroke-width="1" />
<line x1="262.44" y1="970.5" x2="262.44" y2="968.3" stroke="#2b2b2b" stroke-width="1" />
<line x1="262.44" y1="619.4" x2="262.44" y2="621.6" stroke="#2b2b2b" stroke-width="1" />
<line x1="281.03" y1="970.5" x2="281.03" y2="968.3" stroke="#2b2b2b" stroke-width="1" />
<line x1="281.03" y1="619.4" x2="281.03" y2="621.6" stroke="#2b2b2b" stroke-width="1" />
<line x1="297.43" y1="970.5" x2="297.43" y2="968.3" stroke="#2b2b2b" stroke-width="1" />
<line x1="297.43" y1="619.4" x2="297.43" y2="621.6" stroke="#2b2b2b" stroke-width="1" />
<line x1="312.1" y1="970.5" x2="312.1" y2="968.3" stroke="#2b2b2b" stroke-width="1" />
<line x1="312.1" y1="619.4" x2="312.1" y2="621.6" stroke="#2b2b2b" stroke-width="1" />
<line x1="408.61" y1="970.5" x2="408.61" y2="968.3" stroke="#2b2b2b" stroke-width="1" />
<line x1="408.61" y1="619.4" x2="408.61" y2="621.6" stroke="#2b2b2b" stroke-width="1" />
<line x1="465.07" y1="970.5" x2="465.07" y2="968.3" stroke="#2b2b2b" stroke-width="1" />
<line x1="465.07" y1="619.4" x2="465.07" y2="621.6" stroke="#2b2b2b" stroke-width="1" />
<line x1="505.13" y1="970.5" x2="505.13" y2="968.3" stroke="#2b2b2b" stroke-width="1" />
<line x1="505.13" y1="619.4" x2="505.13" y2="621.6" stroke="#2b2b2b" stroke-width="1" />
<line x1="536.2" y1="970.5" x2="536.2" y2="968.3" stroke="#2b2b2b" stroke-width="1" />
<line x1="536.2" y1="619.4" x2="536.2" y2="621.6" stroke="#2b2b2b" stroke-width="1" />
<line x1="88" y1="847.8" x2="92.5" y2="847.8" stroke="#2b2b2b" stroke-width="1.2" />
<line x1="88" y1="672.25" x2="92.5" y2="672.25" stroke="#2b2b2b" stroke-width="1.2" />
<line x1="88" y1="939.59" x2="90.2" y2="939.59" stroke="#2b2b2b" stroke-width="1" />
<line x1="88" y1="917.65" x2="90.2" y2="917.65" stroke="#2b2b2b" stroke-width="1" />
<line x1="88" y1="900.64" x2="90.2" y2="900.64" stroke="#2b2b2b" stroke-width="1" />
<line x1="88" y1="886.74" x2="90.2" y2="886.74" stroke="#2b2b2b" stroke-width="1" />
<line x1="88" y1="874.99" x2="90.2" y2="874.99" stroke="#2b2b2b" stroke-width="1" />
<line x1="88" y1="864.81" x2="90.2" y2="864.81" stroke="#2b2b2b" stroke-width="1" />
<line x1="88" y1="855.83" x2="90.2" y2="855.83" stroke="#2b2b2b" stroke-width="1" />
<line x1="88" y1="794.95" x2="90.2" y2="794.95" stroke="#2b2b2b" stroke-width="1" />
<line x1="88" y1="764.04" x2="90.2" y2="764.04" stroke="#2b2b2b" stroke-width="1" />
<line x1="88" y1="742.1" x2="90.2" y2="742.1" stroke="#2b2b2b" stroke-width="1" />
<line x1="88" y1="725.09" x2="90.2" y2="725.09" stroke="#2b2b2b" stroke-width="1" />
<line x1="88" y1="711.19" x2="90.2" y2="711.19" stroke="#2b2b2b" stroke-width="1" />
<line x1="88" y1="699.44" x2="90.2" y2="699.44" stroke="#2b2b2b" stroke-width="1" />
<line x1="88" y1="689.26" x2="90.2" y2="689.26" stroke="#2b2b2b" stroke-width="1" />
<line x1="88" y1="680.28" x2="90.2" y2="680.28" stroke="#2b2b2b" stroke-width="1" />
<line x1="536.2" y1="830.06" x2="531.7" y2="830.06" stroke="#555" stroke-width="1.2" />
<line x1="536.2" y1="759.84" x2="531.7" y2="759.84" stroke="#555" stroke-width="1.2" />
<line x1="536.2" y1="689.62" x2="531.7" y2="689.62" stroke="#555" stroke-width="1.2" />
<line x1="536.2" y1="654.51" x2="531.7" y2="654.51" stroke="#555" stroke-width="1.2" />
<line x1="536.2" y1="633.44" x2="531.7" y2="633.44" stroke="#555" stroke-width="1.2" />
<line x1="88" y1="619.4" x2="536.2" y2="619.4" stroke="#2b2b2b" stroke-width="1.4" />
<line x1="88" y1="970.5" x2="536.2" y2="970.5" stroke="#2b2b2b" stroke-width="1.4" />
<line x1="88" y1="619.4" x2="88" y2="970.5" stroke="#2b2b2b" stroke-width="1.4" />
<line x1="536.2" y1="619.4" x2="536.2" y2="970.5" stroke="#6a6a6a" stroke-width="1.4" />
<text x="138.62" y="1000.9" font-family="Liberation Sans, sans-serif" font-size="21" font-weight="bold" font-style="normal" fill="#000" transform="matrix(1,0,0,1.03,0,-30.03)" >3</text>
<text x="178.68" y="1000.9" font-family="Liberation Sans, sans-serif" font-size="21" font-weight="bold" font-style="normal" fill="#000" transform="matrix(1,0,0,1.03,0,-30.03)" >4</text>
<text x="209.75" y="1000.9" font-family="Liberation Sans, sans-serif" font-size="21" font-weight="bold" font-style="normal" fill="#000" transform="matrix(1,0,0,1.03,0,-30.03)" >5</text>
<text x="235.13" y="1000.9" font-family="Liberation Sans, sans-serif" font-size="21" font-weight="bold" font-style="normal" fill="#000" transform="matrix(1,0,0,1.03,0,-30.03)" >6</text>
<text x="275.19" y="1000.9" font-family="Liberation Sans, sans-serif" font-size="21" font-weight="bold" font-style="normal" fill="#000" transform="matrix(1,0,0,1.03,0,-30.03)" >8</text>
<path d="M478,0L478,1170L140,959L140,1180L493,1409L759,1409L759,0Z" transform="translate(300.42,1000.9) scale(0.01025,-0.01056)" fill="#000" />
<text x="312.1" y="1000.9" font-family="Liberation Sans, sans-serif" font-size="21" font-weight="bold" font-style="normal" fill="#000" transform="matrix(1,0,0,1.03,0,-30.03)" >0</text>
<path d="M478,0L478,1170L140,959L140,1180L493,1409L759,1409L759,0Z" transform="translate(325.81,1000.9) scale(0.01025,-0.01056)" fill="#000" />
<text x="337.49" y="1000.9" font-family="Liberation Sans, sans-serif" font-size="21" font-weight="bold" font-style="normal" fill="#000" transform="matrix(1,0,0,1.03,0,-30.03)" >2</text>
<path d="M478,0L478,1170L140,959L140,1180L493,1409L759,1409L759,0Z" transform="translate(347.27,1000.9) scale(0.01025,-0.01056)" fill="#000" />
<text x="358.95" y="1000.9" font-family="Liberation Sans, sans-serif" font-size="21" font-weight="bold" font-style="normal" fill="#000" transform="matrix(1,0,0,1.03,0,-30.03)" >4</text>
<path d="M478,0L478,1170L140,959L140,1180L493,1409L759,1409L759,0Z" transform="translate(389.79,1000.9) scale(0.01025,-0.01056)" fill="#000" />
<text x="401.47" y="1000.9" font-family="Liberation Sans, sans-serif" font-size="21" font-weight="bold" font-style="normal" fill="#000" transform="matrix(1,0,0,1.03,0,-30.03)" >9</text>
<text x="422.32" y="1000.9" font-family="Liberation Sans, sans-serif" font-size="21" font-weight="bold" font-style="normal" fill="#000" transform="matrix(1,0,0,1.03,0,-30.03)" >24</text>
<text x="453.39" y="1000.9" font-family="Liberation Sans, sans-serif" font-size="21" font-weight="bold" font-style="normal" fill="#000" transform="matrix(1,0,0,1.03,0,-30.03)" >30</text>
<path d="M478,0L478,1170L140,959L140,1180L493,1409L759,1409L759,0Z" transform="translate(39.74,859.6) scale(0.01025,-0.01056)" fill="#000" />
<text x="51.42" y="859.6" font-family="Liberation Sans, sans-serif" font-size="21" font-weight="bold" font-style="normal" fill="#000" transform="matrix(1,0,0,1.03,0,-25.79)" >0</text>
<text x="63.1" y="850" font-family="Liberation Sans, sans-serif" font-size="18" font-weight="bold" font-style="normal" fill="#000" transform="matrix(1,0,0,1.03,0,-25.5)" >-3</text>
<path d="M478,0L478,1170L140,959L140,1180L493,1409L759,1409L759,0Z" transform="translate(39.74,684.05) scale(0.01025,-0.01056)" fill="#000" />
<text x="51.42" y="684.05" font-family="Liberation Sans, sans-serif" font-size="21" font-weight="bold" font-style="normal" fill="#000" transform="matrix(1,0,0,1.03,0,-20.52)" >0</text>
<text x="63.1" y="674.45" font-family="Liberation Sans, sans-serif" font-size="18" font-weight="bold" font-style="normal" fill="#000" transform="matrix(1,0,0,1.03,0,-20.23)" >-2</text>
<text x="544.38" y="838.26" font-family="Liberation Sans, sans-serif" font-size="21" font-weight="normal" font-style="normal" fill="#262626" transform="matrix(1,0,0,1.03,0,-25.15)" stroke="#262626" stroke-width="0.7">0.7</text>
<text x="544.38" y="768.04" font-family="Liberation Sans, sans-serif" font-size="21" font-weight="normal" font-style="normal" fill="#262626" transform="matrix(1,0,0,1.03,0,-23.04)" stroke="#262626" stroke-width="0.7">0.8</text>
<text x="544.38" y="697.82" font-family="Liberation Sans, sans-serif" font-size="21" font-weight="normal" font-style="normal" fill="#262626" transform="matrix(1,0,0,1.03,0,-20.93)" stroke="#262626" stroke-width="0.7">0.9</text>
<text x="544.38" y="662.71" font-family="Liberation Sans, sans-serif" font-size="21" font-weight="normal" font-style="normal" fill="#262626" transform="matrix(1,0,0,1.03,0,-19.88)" stroke="#262626" stroke-width="0.7">0.95</text>
<text x="544.38" y="641.64" font-family="Liberation Sans, sans-serif" font-size="21" font-weight="normal" font-style="normal" fill="#262626" transform="matrix(1,0,0,1.03,0,-19.25)" stroke="#262626" stroke-width="0.7">0.98</text>
<line x1="931.29" y1="619.4" x2="931.29" y2="970.4" stroke="#d6d6d6" stroke-width="1.1" stroke-dasharray="1.5 1.0"/>
<line x1="966.32" y1="619.4" x2="966.32" y2="970.4" stroke="#d6d6d6" stroke-width="1.1" stroke-dasharray="1.5 1.0"/>
<line x1="1077.6" y1="619.4" x2="1077.6" y2="970.4" stroke="#d6d6d6" stroke-width="1.1" stroke-dasharray="1.5 1.0"/>
<line x1="1174.2" y1="619.4" x2="1174.2" y2="970.4" stroke="#d6d6d6" stroke-width="1.1" stroke-dasharray="1.5 1.0"/>
<line x1="813.21" y1="619.4" x2="813.21" y2="970.4" stroke="#e0e0e0" stroke-width="1.2" />
<line x1="853.3" y1="619.4" x2="853.3" y2="970.4" stroke="#e0e0e0" stroke-width="1.2" />
<line x1="884.4" y1="619.4" x2="884.4" y2="970.4" stroke="#e0e0e0" stroke-width="1.2" />
<line x1="909.81" y1="619.4" x2="909.81" y2="970.4" stroke="#e0e0e0" stroke-width="1.2" />
<line x1="949.9" y1="619.4" x2="949.9" y2="970.4" stroke="#e0e0e0" stroke-width="1.2" />
<line x1="981" y1="619.4" x2="981" y2="970.4" stroke="#e0e0e0" stroke-width="1.2" />
<line x1="1006.41" y1="619.4" x2="1006.41" y2="970.4" stroke="#e0e0e0" stroke-width="1.2" />
<line x1="1027.89" y1="619.4" x2="1027.89" y2="970.4" stroke="#e0e0e0" stroke-width="1.2" />
<line x1="1070.45" y1="619.4" x2="1070.45" y2="970.4" stroke="#e0e0e0" stroke-width="1.2" />
<line x1="1103.01" y1="619.4" x2="1103.01" y2="970.4" stroke="#e0e0e0" stroke-width="1.2" />
<line x1="1134.11" y1="619.4" x2="1134.11" y2="970.4" stroke="#e0e0e0" stroke-width="1.2" />
<line x1="756.7" y1="917.57" x2="1205.3" y2="917.57" stroke="#dadada" stroke-width="1.1" stroke-dasharray="1.5 1.0"/>
<line x1="756.7" y1="886.67" x2="1205.3" y2="886.67" stroke="#dadada" stroke-width="1.1" stroke-dasharray="1.5 1.0"/>
<line x1="756.7" y1="864.74" x2="1205.3" y2="864.74" stroke="#dadada" stroke-width="1.1" stroke-dasharray="1.5 1.0"/>
<line x1="756.7" y1="847.73" x2="1205.3" y2="847.73" stroke="#dadada" stroke-width="1.1" stroke-dasharray="1.5 1.0"/>
<line x1="756.7" y1="833.83" x2="1205.3" y2="833.83" stroke="#dadada" stroke-width="1.1" stroke-dasharray="1.5 1.0"/>
<line x1="756.7" y1="822.09" x2="1205.3" y2="822.09" stroke="#dadada" stroke-width="1.1" stroke-dasharray="1.5 1.0"/>
<line x1="756.7" y1="811.91" x2="1205.3" y2="811.91" stroke="#dadada" stroke-width="1.1" stroke-dasharray="1.5 1.0"/>
<line x1="756.7" y1="802.93" x2="1205.3" y2="802.93" stroke="#dadada" stroke-width="1.1" stroke-dasharray="1.5 1.0"/>
<line x1="756.7" y1="742.07" x2="1205.3" y2="742.07" stroke="#dadada" stroke-width="1.1" stroke-dasharray="1.5 1.0"/>
<line x1="756.7" y1="711.17" x2="1205.3" y2="711.17" stroke="#dadada" stroke-width="1.1" stroke-dasharray="1.5 1.0"/>
<line x1="756.7" y1="689.24" x2="1205.3" y2="689.24" stroke="#dadada" stroke-width="1.1" stroke-dasharray="1.5 1.0"/>
<line x1="756.7" y1="672.23" x2="1205.3" y2="672.23" stroke="#dadada" stroke-width="1.1" stroke-dasharray="1.5 1.0"/>
<line x1="756.7" y1="658.33" x2="1205.3" y2="658.33" stroke="#dadada" stroke-width="1.1" stroke-dasharray="1.5 1.0"/>
<line x1="756.7" y1="646.59" x2="1205.3" y2="646.59" stroke="#dadada" stroke-width="1.1" stroke-dasharray="1.5 1.0"/>
<line x1="756.7" y1="636.41" x2="1205.3" y2="636.41" stroke="#dadada" stroke-width="1.1" stroke-dasharray="1.5 1.0"/>
<line x1="756.7" y1="627.43" x2="1205.3" y2="627.43" stroke="#dadada" stroke-width="1.1" stroke-dasharray="1.5 1.0"/>
<line x1="756.7" y1="794.9" x2="1205.3" y2="794.9" stroke="#d8d8d8" stroke-width="1.4" />
<circle cx="909.81" cy="793.62" r="5.2" fill="#ed1c24" stroke="#6a1c1c" stroke-width="1.0"/>
<circle cx="981" cy="831.95" r="5.2" fill="#ed1c24" stroke="#6a1c1c" stroke-width="1.0"/>
<circle cx="1027.89" cy="848.65" r="5.2" fill="#ed1c24" stroke="#6a1c1c" stroke-width="1.0"/>
<circle cx="1138.68" cy="883.92" r="5.2" fill="#ed1c24" stroke="#6a1c1c" stroke-width="1.0"/>
<circle cx="834.69" cy="681.9" r="5.2" fill="#cbdb2a" stroke="#55573a" stroke-width="1.0"/>
<circle cx="884.4" cy="744.63" r="5.2" fill="#cbdb2a" stroke="#55573a" stroke-width="1.0"/>
<circle cx="966.32" cy="827.5" r="5.2" fill="#cbdb2a" stroke="#55573a" stroke-width="1.0"/>
<circle cx="1027.89" cy="853.43" r="5.2" fill="#cbdb2a" stroke="#55573a" stroke-width="1.0"/>
<circle cx="1070.45" cy="878.03" r="5.2" fill="#cbdb2a" stroke="#55573a" stroke-width="1.0"/>
<circle cx="884.4" cy="769.31" r="5.2" fill="#3d68b4" stroke="#283a66" stroke-width="1.0"/>
<circle cx="949.9" cy="818.89" r="5.2" fill="#3d68b4" stroke="#283a66" stroke-width="1.0"/>
<circle cx="1006.41" cy="851" r="5.2" fill="#3d68b4" stroke="#283a66" stroke-width="1.0"/>
<circle cx="1070.45" cy="866.86" r="5.2" fill="#3d68b4" stroke="#283a66" stroke-width="1.0"/>
<circle cx="1103.01" cy="892.47" r="5.2" fill="#3d68b4" stroke="#283a66" stroke-width="1.0"/>
<circle cx="1149.49" cy="898.46" r="5.2" fill="#3d68b4" stroke="#283a66" stroke-width="1.0"/>
<polygon points="834.69,689.31 839.79,698.31 829.59,698.31" fill="#7a7a7a" stroke="#6a6a6a" stroke-width="0.7" stroke-linejoin="round"/>
<polygon points="884.4,644.66 889.5,653.66 879.3,653.66" fill="#7a7a7a" stroke="#6a6a6a" stroke-width="0.7" stroke-linejoin="round"/>
<polygon points="884.4,656.32 889.5,665.32 879.3,665.32" fill="#7a7a7a" stroke="#6a6a6a" stroke-width="0.7" stroke-linejoin="round"/>
<polygon points="909.81,644.66 914.91,653.66 904.71,653.66" fill="#7a7a7a" stroke="#6a6a6a" stroke-width="0.7" stroke-linejoin="round"/>
<polygon points="949.9,656.88 955,665.88 944.8,665.88" fill="#7a7a7a" stroke="#6a6a6a" stroke-width="0.7" stroke-linejoin="round"/>
<polygon points="966.32,653.02 971.42,662.02 961.22,662.02" fill="#7a7a7a" stroke="#6a6a6a" stroke-width="0.7" stroke-linejoin="round"/>
<polygon points="981,678.85 986.1,687.85 975.9,687.85" fill="#7a7a7a" stroke="#6a6a6a" stroke-width="0.7" stroke-linejoin="round"/>
<polygon points="1006.41,690.37 1011.51,699.37 1001.31,699.37" fill="#7a7a7a" stroke="#6a6a6a" stroke-width="0.7" stroke-linejoin="round"/>
<polygon points="1027.89,668.81 1032.99,677.81 1022.79,677.81" fill="#7a7a7a" stroke="#6a6a6a" stroke-width="0.7" stroke-linejoin="round"/>
<polygon points="1027.89,712.55 1032.99,721.55 1022.79,721.55" fill="#7a7a7a" stroke="#6a6a6a" stroke-width="0.7" stroke-linejoin="round"/>
<polygon points="1070.45,717.46 1075.55,726.46 1065.35,726.46" fill="#7a7a7a" stroke="#6a6a6a" stroke-width="0.7" stroke-linejoin="round"/>
<polygon points="1103.01,745.26 1108.11,754.26 1097.91,754.26" fill="#7a7a7a" stroke="#6a6a6a" stroke-width="0.7" stroke-linejoin="round"/>
<polygon points="1138.68,751.86 1143.78,760.86 1133.58,760.86" fill="#7a7a7a" stroke="#6a6a6a" stroke-width="0.7" stroke-linejoin="round"/>
<polygon points="1149.49,749.47 1154.59,758.47 1144.39,758.47" fill="#7a7a7a" stroke="#6a6a6a" stroke-width="0.7" stroke-linejoin="round"/>
<polyline points="884.4,770.91 888.04,773.02 891.69,775.13 895.33,777.24 898.97,779.35 902.62,781.46 906.26,783.57 909.9,785.68 913.55,787.79 917.19,789.91 920.83,792.02 924.48,794.13 928.12,796.24 931.76,798.35 935.41,800.46 939.05,802.57 942.7,804.68 946.34,806.79 949.98,808.91 953.63,811.02 957.27,813.13 960.91,815.24 964.56,817.35 968.2,819.46 971.84,821.57 975.49,823.68 979.13,825.79 982.77,827.91 986.42,830.02 990.06,832.13 993.7,834.24 997.35,836.35 1000.99,838.46 1004.64,840.57 1008.28,842.68 1011.92,844.79 1015.57,846.91 1019.21,849.02 1022.85,851.13 1026.5,853.24 1030.14,855.35 1033.78,857.46 1037.43,859.57 1041.07,861.68 1044.71,863.79 1048.36,865.91 1052,868.02 1055.64,870.13 1059.29,872.24 1062.93,874.35 1066.57,876.46 1070.22,878.57 1073.86,880.68 1077.51,882.79 1081.15,884.91 1084.79,887.02 1088.44,889.13 1092.08,891.24 1095.72,893.35 1099.37,895.46 1103.01,897.57" fill="none" stroke="#4343a3" stroke-width="2" stroke-dasharray="8.400 8.800"/>
<line x1="813.21" y1="970.4" x2="813.21" y2="965.9" stroke="#2b2b2b" stroke-width="1.2" />
<line x1="813.21" y1="619.4" x2="813.21" y2="623.9" stroke="#2b2b2b" stroke-width="1.2" />
<line x1="853.3" y1="970.4" x2="853.3" y2="965.9" stroke="#2b2b2b" stroke-width="1.2" />
<line x1="853.3" y1="619.4" x2="853.3" y2="623.9" stroke="#2b2b2b" stroke-width="1.2" />
<line x1="884.4" y1="970.4" x2="884.4" y2="965.9" stroke="#2b2b2b" stroke-width="1.2" />
<line x1="884.4" y1="619.4" x2="884.4" y2="623.9" stroke="#2b2b2b" stroke-width="1.2" />
<line x1="909.81" y1="970.4" x2="909.81" y2="965.9" stroke="#2b2b2b" stroke-width="1.2" />
<line x1="909.81" y1="619.4" x2="909.81" y2="623.9" stroke="#2b2b2b" stroke-width="1.2" />
<line x1="949.9" y1="970.4" x2="949.9" y2="965.9" stroke="#2b2b2b" stroke-width="1.2" />
<line x1="949.9" y1="619.4" x2="949.9" y2="623.9" stroke="#2b2b2b" stroke-width="1.2" />
<line x1="981" y1="970.4" x2="981" y2="965.9" stroke="#2b2b2b" stroke-width="1.2" />
<line x1="981" y1="619.4" x2="981" y2="623.9" stroke="#2b2b2b" stroke-width="1.2" />
<line x1="1006.41" y1="970.4" x2="1006.41" y2="965.9" stroke="#2b2b2b" stroke-width="1.2" />
<line x1="1006.41" y1="619.4" x2="1006.41" y2="623.9" stroke="#2b2b2b" stroke-width="1.2" />
<line x1="1027.89" y1="970.4" x2="1027.89" y2="965.9" stroke="#2b2b2b" stroke-width="1.2" />
<line x1="1027.89" y1="619.4" x2="1027.89" y2="623.9" stroke="#2b2b2b" stroke-width="1.2" />
<line x1="1070.45" y1="970.4" x2="1070.45" y2="965.9" stroke="#2b2b2b" stroke-width="1.2" />
<line x1="1070.45" y1="619.4" x2="1070.45" y2="623.9" stroke="#2b2b2b" stroke-width="1.2" />
<line x1="1103.01" y1="970.4" x2="1103.01" y2="965.9" stroke="#2b2b2b" stroke-width="1.2" />
<line x1="1103.01" y1="619.4" x2="1103.01" y2="623.9" stroke="#2b2b2b" stroke-width="1.2" />
<line x1="1134.11" y1="970.4" x2="1134.11" y2="965.9" stroke="#2b2b2b" stroke-width="1.2" />
<line x1="1134.11" y1="619.4" x2="1134.11" y2="623.9" stroke="#2b2b2b" stroke-width="1.2" />
<line x1="756.7" y1="970.4" x2="756.7" y2="968.2" stroke="#2b2b2b" stroke-width="1" />
<line x1="756.7" y1="619.4" x2="756.7" y2="621.6" stroke="#2b2b2b" stroke-width="1" />
<line x1="813.21" y1="970.4" x2="813.21" y2="968.2" stroke="#2b2b2b" stroke-width="1" />
<line x1="813.21" y1="619.4" x2="813.21" y2="621.6" stroke="#2b2b2b" stroke-width="1" />
<line x1="853.3" y1="970.4" x2="853.3" y2="968.2" stroke="#2b2b2b" stroke-width="1" />
<line x1="853.3" y1="619.4" x2="853.3" y2="621.6" stroke="#2b2b2b" stroke-width="1" />
<line x1="884.4" y1="970.4" x2="884.4" y2="968.2" stroke="#2b2b2b" stroke-width="1" />
<line x1="884.4" y1="619.4" x2="884.4" y2="621.6" stroke="#2b2b2b" stroke-width="1" />
<line x1="909.81" y1="970.4" x2="909.81" y2="968.2" stroke="#2b2b2b" stroke-width="1" />
<line x1="909.81" y1="619.4" x2="909.81" y2="621.6" stroke="#2b2b2b" stroke-width="1" />
<line x1="931.29" y1="970.4" x2="931.29" y2="968.2" stroke="#2b2b2b" stroke-width="1" />
<line x1="931.29" y1="619.4" x2="931.29" y2="621.6" stroke="#2b2b2b" stroke-width="1" />
<line x1="949.9" y1="970.4" x2="949.9" y2="968.2" stroke="#2b2b2b" stroke-width="1" />
<line x1="949.9" y1="619.4" x2="949.9" y2="621.6" stroke="#2b2b2b" stroke-width="1" />
<line x1="966.32" y1="970.4" x2="966.32" y2="968.2" stroke="#2b2b2b" stroke-width="1" />
<line x1="966.32" y1="619.4" x2="966.32" y2="621.6" stroke="#2b2b2b" stroke-width="1" />
<line x1="981" y1="970.4" x2="981" y2="968.2" stroke="#2b2b2b" stroke-width="1" />
<line x1="981" y1="619.4" x2="981" y2="621.6" stroke="#2b2b2b" stroke-width="1" />
<line x1="1077.6" y1="970.4" x2="1077.6" y2="968.2" stroke="#2b2b2b" stroke-width="1" />
<line x1="1077.6" y1="619.4" x2="1077.6" y2="621.6" stroke="#2b2b2b" stroke-width="1" />
<line x1="1134.11" y1="970.4" x2="1134.11" y2="968.2" stroke="#2b2b2b" stroke-width="1" />
<line x1="1134.11" y1="619.4" x2="1134.11" y2="621.6" stroke="#2b2b2b" stroke-width="1" />
<line x1="1174.2" y1="970.4" x2="1174.2" y2="968.2" stroke="#2b2b2b" stroke-width="1" />
<line x1="1174.2" y1="619.4" x2="1174.2" y2="621.6" stroke="#2b2b2b" stroke-width="1" />
<line x1="1205.3" y1="970.4" x2="1205.3" y2="968.2" stroke="#2b2b2b" stroke-width="1" />
<line x1="1205.3" y1="619.4" x2="1205.3" y2="621.6" stroke="#2b2b2b" stroke-width="1" />
<line x1="756.7" y1="970.4" x2="761.2" y2="970.4" stroke="#2b2b2b" stroke-width="1.2" />
<line x1="756.7" y1="794.9" x2="761.2" y2="794.9" stroke="#2b2b2b" stroke-width="1.2" />
<line x1="756.7" y1="619.4" x2="761.2" y2="619.4" stroke="#2b2b2b" stroke-width="1.2" />
<line x1="756.7" y1="917.57" x2="758.9" y2="917.57" stroke="#2b2b2b" stroke-width="1" />
<line x1="756.7" y1="886.67" x2="758.9" y2="886.67" stroke="#2b2b2b" stroke-width="1" />
<line x1="756.7" y1="864.74" x2="758.9" y2="864.74" stroke="#2b2b2b" stroke-width="1" />
<line x1="756.7" y1="847.73" x2="758.9" y2="847.73" stroke="#2b2b2b" stroke-width="1" />
<line x1="756.7" y1="833.83" x2="758.9" y2="833.83" stroke="#2b2b2b" stroke-width="1" />
<line x1="756.7" y1="822.09" x2="758.9" y2="822.09" stroke="#2b2b2b" stroke-width="1" />
<line x1="756.7" y1="811.91" x2="758.9" y2="811.91" stroke="#2b2b2b" stroke-width="1" />
<line x1="756.7" y1="802.93" x2="758.9" y2="802.93" stroke="#2b2b2b" stroke-width="1" />
<line x1="756.7" y1="742.07" x2="758.9" y2="742.07" stroke="#2b2b2b" stroke-width="1" />
<line x1="756.7" y1="711.17" x2="758.9" y2="711.17" stroke="#2b2b2b" stroke-width="1" />
<line x1="756.7" y1="689.24" x2="758.9" y2="689.24" stroke="#2b2b2b" stroke-width="1" />
<line x1="756.7" y1="672.23" x2="758.9" y2="672.23" stroke="#2b2b2b" stroke-width="1" />
<line x1="756.7" y1="658.33" x2="758.9" y2="658.33" stroke="#2b2b2b" stroke-width="1" />
<line x1="756.7" y1="646.59" x2="758.9" y2="646.59" stroke="#2b2b2b" stroke-width="1" />
<line x1="756.7" y1="636.41" x2="758.9" y2="636.41" stroke="#2b2b2b" stroke-width="1" />
<line x1="756.7" y1="627.43" x2="758.9" y2="627.43" stroke="#2b2b2b" stroke-width="1" />
<line x1="1205.3" y1="830" x2="1200.8" y2="830" stroke="#555" stroke-width="1.2" />
<line x1="1205.3" y1="759.8" x2="1200.8" y2="759.8" stroke="#555" stroke-width="1.2" />
<line x1="1205.3" y1="689.6" x2="1200.8" y2="689.6" stroke="#555" stroke-width="1.2" />
<line x1="1205.3" y1="654.5" x2="1200.8" y2="654.5" stroke="#555" stroke-width="1.2" />
<line x1="1205.3" y1="633.44" x2="1200.8" y2="633.44" stroke="#555" stroke-width="1.2" />
<line x1="756.7" y1="619.4" x2="1205.3" y2="619.4" stroke="#2b2b2b" stroke-width="1.4" />
<line x1="756.7" y1="970.4" x2="1205.3" y2="970.4" stroke="#2b2b2b" stroke-width="1.4" />
<line x1="756.7" y1="619.4" x2="756.7" y2="970.4" stroke="#2b2b2b" stroke-width="1.4" />
<line x1="1205.3" y1="619.4" x2="1205.3" y2="970.4" stroke="#6a6a6a" stroke-width="1.4" />
<text x="807.37" y="1000.8" font-family="Liberation Sans, sans-serif" font-size="21" font-weight="bold" font-style="normal" fill="#000" transform="matrix(1,0,0,1.03,0,-30.02)" >3</text>
<text x="847.46" y="1000.8" font-family="Liberation Sans, sans-serif" font-size="21" font-weight="bold" font-style="normal" fill="#000" transform="matrix(1,0,0,1.03,0,-30.02)" >4</text>
<text x="878.56" y="1000.8" font-family="Liberation Sans, sans-serif" font-size="21" font-weight="bold" font-style="normal" fill="#000" transform="matrix(1,0,0,1.03,0,-30.02)" >5</text>
<text x="903.97" y="1000.8" font-family="Liberation Sans, sans-serif" font-size="21" font-weight="bold" font-style="normal" fill="#000" transform="matrix(1,0,0,1.03,0,-30.02)" >6</text>
<text x="944.06" y="1000.8" font-family="Liberation Sans, sans-serif" font-size="21" font-weight="bold" font-style="normal" fill="#000" transform="matrix(1,0,0,1.03,0,-30.02)" >8</text>
<path d="M478,0L478,1170L140,959L140,1180L493,1409L759,1409L759,0Z" transform="translate(969.32,1000.8) scale(0.01025,-0.01056)" fill="#000" />
<text x="981" y="1000.8" font-family="Liberation Sans, sans-serif" font-size="21" font-weight="bold" font-style="normal" fill="#000" transform="matrix(1,0,0,1.03,0,-30.02)" >0</text>
<path d="M478,0L478,1170L140,959L140,1180L493,1409L759,1409L759,0Z" transform="translate(994.73,1000.8) scale(0.01025,-0.01056)" fill="#000" />
<text x="1006.41" y="1000.8" font-family="Liberation Sans, sans-serif" font-size="21" font-weight="bold" font-style="normal" fill="#000" transform="matrix(1,0,0,1.03,0,-30.02)" >2</text>
<path d="M478,0L478,1170L140,959L140,1180L493,1409L759,1409L759,0Z" transform="translate(1016.21,1000.8) scale(0.01025,-0.01056)" fill="#000" />
<text x="1027.89" y="1000.8" font-family="Liberation Sans, sans-serif" font-size="21" font-weight="bold" font-style="normal" fill="#000" transform="matrix(1,0,0,1.03,0,-30.02)" >4</text>
<path d="M478,0L478,1170L140,959L140,1180L493,1409L759,1409L759,0Z" transform="translate(1058.77,1000.8) scale(0.01025,-0.01056)" fill="#000" />
<text x="1070.45" y="1000.8" font-family="Liberation Sans, sans-serif" font-size="21" font-weight="bold" font-style="normal" fill="#000" transform="matrix(1,0,0,1.03,0,-30.02)" >9</text>
<text x="1091.33" y="1000.8" font-family="Liberation Sans, sans-serif" font-size="21" font-weight="bold" font-style="normal" fill="#000" transform="matrix(1,0,0,1.03,0,-30.02)" >24</text>
<text x="1122.43" y="1000.8" font-family="Liberation Sans, sans-serif" font-size="21" font-weight="bold" font-style="normal" fill="#000" transform="matrix(1,0,0,1.03,0,-30.02)" >30</text>
<path d="M478,0L478,1170L140,959L140,1180L493,1409L759,1409L759,0Z" transform="translate(708.44,982.2) scale(0.01025,-0.01056)" fill="#000" />
<text x="720.12" y="982.2" font-family="Liberation Sans, sans-serif" font-size="21" font-weight="bold" font-style="normal" fill="#000" transform="matrix(1,0,0,1.03,0,-29.47)" >0</text>
<text x="731.8" y="972.6" font-family="Liberation Sans, sans-serif" font-size="18" font-weight="bold" font-style="normal" fill="#000" transform="matrix(1,0,0,1.03,0,-29.18)" >-3</text>
<path d="M478,0L478,1170L140,959L140,1180L493,1409L759,1409L759,0Z" transform="translate(708.44,806.7) scale(0.01025,-0.01056)" fill="#000" />
<text x="720.12" y="806.7" font-family="Liberation Sans, sans-serif" font-size="21" font-weight="bold" font-style="normal" fill="#000" transform="matrix(1,0,0,1.03,0,-24.2)" >0</text>
<text x="731.8" y="797.1" font-family="Liberation Sans, sans-serif" font-size="18" font-weight="bold" font-style="normal" fill="#000" transform="matrix(1,0,0,1.03,0,-23.91)" >-2</text>
<path d="M478,0L478,1170L140,959L140,1180L493,1409L759,1409L759,0Z" transform="translate(708.44,631.2) scale(0.01025,-0.01056)" fill="#000" />
<text x="720.12" y="631.2" font-family="Liberation Sans, sans-serif" font-size="21" font-weight="bold" font-style="normal" fill="#000" transform="matrix(1,0,0,1.03,0,-18.94)" >0</text>
<text x="731.8" y="621.6" font-family="Liberation Sans, sans-serif" font-size="18" font-weight="bold" font-style="normal" fill="#000" transform="matrix(1,0,0,1.03,0,-18.65)" >-</text>
<path d="M478,0L478,1170L140,959L140,1180L493,1409L759,1409L759,0Z" transform="translate(737.79,621.6) scale(0.00879,-0.00905)" fill="#000" />
<text x="1213.48" y="838.2" font-family="Liberation Sans, sans-serif" font-size="21" font-weight="normal" font-style="normal" fill="#262626" transform="matrix(1,0,0,1.03,0,-25.15)" stroke="#262626" stroke-width="0.7">0.7</text>
<text x="1213.48" y="768" font-family="Liberation Sans, sans-serif" font-size="21" font-weight="normal" font-style="normal" fill="#262626" transform="matrix(1,0,0,1.03,0,-23.04)" stroke="#262626" stroke-width="0.7">0.8</text>
<text x="1213.48" y="697.8" font-family="Liberation Sans, sans-serif" font-size="21" font-weight="normal" font-style="normal" fill="#262626" transform="matrix(1,0,0,1.03,0,-20.93)" stroke="#262626" stroke-width="0.7">0.9</text>
<text x="1213.48" y="662.7" font-family="Liberation Sans, sans-serif" font-size="21" font-weight="normal" font-style="normal" fill="#262626" transform="matrix(1,0,0,1.03,0,-19.88)" stroke="#262626" stroke-width="0.7">0.95</text>
<text x="1213.48" y="641.64" font-family="Liberation Sans, sans-serif" font-size="21" font-weight="normal" font-style="normal" fill="#262626" transform="matrix(1,0,0,1.03,0,-19.25)" stroke="#262626" stroke-width="0.7">0.98</text>
<text x="97.78" y="23.8" font-family="Liberation Sans, sans-serif" font-size="29" font-weight="bold" font-style="normal" fill="#000" transform="matrix(1,0,0,1.03,0,-0.71)" >A</text>
<text x="748.86" y="23.9" font-family="Liberation Sans, sans-serif" font-size="29" font-weight="bold" font-style="normal" fill="#000" transform="matrix(1,0,0,1.03,0,-0.72)" >B</text>
<text x="95.31" y="557.1" font-family="Liberation Sans, sans-serif" font-size="29" font-weight="bold" font-style="normal" fill="#000" transform="matrix(1,0,0,1.03,0,-16.71)" >C</text>
<text x="754.66" y="558.4" font-family="Liberation Sans, sans-serif" font-size="29" font-weight="bold" font-style="normal" fill="#000" transform="matrix(1,0,0,1.03,0,-16.75)" >D</text>
<text x="219.5" y="68" font-family="Liberation Sans, sans-serif" font-size="23" font-weight="bold" font-style="italic" fill="#000" transform="matrix(1,0,0,1.03,0,-2.04)" >H</text>
<text x="236.39" y="79.7" font-family="Liberation Sans, sans-serif" font-size="18.8" font-weight="bold" font-style="italic" fill="#000" transform="matrix(1,0,0,1.03,0,-2.39)" >s,IGW</text>
<text x="297.25" y="68" font-family="Liberation Sans, sans-serif" font-size="23" font-weight="bold" font-style="normal" fill="#000" transform="matrix(1,0,0,1.03,0,-2.04)" >=</text>
<text x="318.67" y="68" font-family="Liberation Sans, sans-serif" font-size="23" font-weight="bold" font-style="italic" fill="#000" transform="matrix(1,0,0,1.03,0,-2.04)" >A</text>
<path d="M380,0L604,1152L223,938L270,1180L666,1409L936,1409L661,0Z" transform="translate(336.7,79.7) scale(0.00918,-0.00946)" fill="#000" />
<text x="354.24" y="65.6" font-family="Liberation Sans, sans-serif" font-size="21" font-weight="bold" font-style="normal" fill="#000" transform="matrix(1,0,0,1.03,0,-1.97)" >*</text>
<text x="368.8" y="68" font-family="Liberation Sans, sans-serif" font-size="23" font-weight="bold" font-style="italic" fill="#000" transform="matrix(1,0,0,1.03,0,-2.04)" >H</text>
<text x="385.99" y="79.7" font-family="Liberation Sans, sans-serif" font-size="18.8" font-weight="bold" font-style="italic" fill="#000" transform="matrix(1,0,0,1.03,0,-2.39)" >s</text>
<text x="403.97" y="68" font-family="Liberation Sans, sans-serif" font-size="23" font-weight="bold" font-style="italic" fill="#000" transform="matrix(1,0,0,1.03,0,-2.04)" >T</text>
<text x="417.95" y="56.4" font-family="Liberation Sans, sans-serif" font-size="18.8" font-weight="bold" font-style="normal" fill="#000" transform="matrix(1,0,0,1.03,0,-1.69)" >2</text>
<text x="417.58" y="79.7" font-family="Liberation Sans, sans-serif" font-size="18.8" font-weight="bold" font-style="italic" fill="#000" transform="matrix(1,0,0,1.03,0,-2.39)" >m</text>
<text x="888.4" y="68" font-family="Liberation Sans, sans-serif" font-size="23" font-weight="bold" font-style="italic" fill="#000" transform="matrix(1,0,0,1.03,0,-2.04)" >H</text>
<text x="905.39" y="79.7" font-family="Liberation Sans, sans-serif" font-size="18.8" font-weight="bold" font-style="italic" fill="#000" transform="matrix(1,0,0,1.03,0,-2.39)" >s,IGW</text>
<text x="966.25" y="68" font-family="Liberation Sans, sans-serif" font-size="23" font-weight="bold" font-style="normal" fill="#000" transform="matrix(1,0,0,1.03,0,-2.04)" >=</text>
<text x="987.27" y="68" font-family="Liberation Sans, sans-serif" font-size="23" font-weight="bold" font-style="italic" fill="#000" transform="matrix(1,0,0,1.03,0,-2.04)" >A</text>
<text x="1005.09" y="79.7" font-family="Liberation Sans, sans-serif" font-size="18.8" font-weight="bold" font-style="italic" fill="#000" transform="matrix(1,0,0,1.03,0,-2.39)" >2</text>
<text x="1023.14" y="65.6" font-family="Liberation Sans, sans-serif" font-size="21" font-weight="bold" font-style="normal" fill="#000" transform="matrix(1,0,0,1.03,0,-1.97)" >*</text>
<text x="1037.7" y="68" font-family="Liberation Sans, sans-serif" font-size="23" font-weight="bold" font-style="italic" fill="#000" transform="matrix(1,0,0,1.03,0,-2.04)" >H</text>
<text x="1054.35" y="56.4" font-family="Liberation Sans, sans-serif" font-size="18.8" font-weight="bold" font-style="normal" fill="#000" transform="matrix(1,0,0,1.03,0,-1.69)" >2</text>
<text x="1054.29" y="79.7" font-family="Liberation Sans, sans-serif" font-size="18.8" font-weight="bold" font-style="italic" fill="#000" transform="matrix(1,0,0,1.03,0,-2.39)" >s</text>
<text x="1072.47" y="68" font-family="Liberation Sans, sans-serif" font-size="23" font-weight="bold" font-style="italic" fill="#000" transform="matrix(1,0,0,1.03,0,-2.04)" >T</text>
<text x="1086.48" y="79.7" font-family="Liberation Sans, sans-serif" font-size="18.8" font-weight="bold" font-style="italic" fill="#000" transform="matrix(1,0,0,1.03,0,-2.39)" >m</text>
<text x="205" y="601.6" font-family="Liberation Sans, sans-serif" font-size="23" font-weight="bold" font-style="italic" fill="#000" transform="matrix(1,0,0,1.03,0,-18.05)" >H</text>
<text x="221.89" y="613.3" font-family="Liberation Sans, sans-serif" font-size="18.8" font-weight="bold" font-style="italic" fill="#000" transform="matrix(1,0,0,1.03,0,-18.4)" >s,IGW</text>
<text x="282.75" y="601.6" font-family="Liberation Sans, sans-serif" font-size="23" font-weight="bold" font-style="normal" fill="#000" transform="matrix(1,0,0,1.03,0,-18.05)" >=</text>
<text x="304.17" y="601.6" font-family="Liberation Sans, sans-serif" font-size="23" font-weight="bold" font-style="italic" fill="#000" transform="matrix(1,0,0,1.03,0,-18.05)" >A</text>
<path d="M380,0L604,1152L223,938L270,1180L666,1409L936,1409L661,0Z" transform="translate(322.2,613.3) scale(0.00918,-0.00946)" fill="#000" />
<text x="339.74" y="599.2" font-family="Liberation Sans, sans-serif" font-size="21" font-weight="bold" font-style="normal" fill="#000" transform="matrix(1,0,0,1.03,0,-17.98)" >*</text>
<text x="354.3" y="601.6" font-family="Liberation Sans, sans-serif" font-size="23" font-weight="bold" font-style="italic" fill="#000" transform="matrix(1,0,0,1.03,0,-18.05)" >H</text>
<text x="371.49" y="613.3" font-family="Liberation Sans, sans-serif" font-size="18.8" font-weight="bold" font-style="italic" fill="#000" transform="matrix(1,0,0,1.03,0,-18.4)" >s</text>
<text x="389.47" y="601.6" font-family="Liberation Sans, sans-serif" font-size="23" font-weight="bold" font-style="italic" fill="#000" transform="matrix(1,0,0,1.03,0,-18.05)" >T</text>
<text x="403.45" y="590" font-family="Liberation Sans, sans-serif" font-size="18.8" font-weight="bold" font-style="normal" fill="#000" transform="matrix(1,0,0,1.03,0,-17.7)" >2</text>
<text x="403.08" y="613.3" font-family="Liberation Sans, sans-serif" font-size="18.8" font-weight="bold" font-style="italic" fill="#000" transform="matrix(1,0,0,1.03,0,-18.4)" >m</text>
<text x="874" y="601.6" font-family="Liberation Sans, sans-serif" font-size="23" font-weight="bold" font-style="italic" fill="#000" transform="matrix(1,0,0,1.03,0,-18.05)" >H</text>
<text x="890.99" y="613.3" font-family="Liberation Sans, sans-serif" font-size="18.8" font-weight="bold" font-style="italic" fill="#000" transform="matrix(1,0,0,1.03,0,-18.4)" >s,IGW</text>
<text x="951.85" y="601.6" font-family="Liberation Sans, sans-serif" font-size="23" font-weight="bold" font-style="normal" fill="#000" transform="matrix(1,0,0,1.03,0,-18.05)" >=</text>
<text x="972.87" y="601.6" font-family="Liberation Sans, sans-serif" font-size="23" font-weight="bold" font-style="italic" fill="#000" transform="matrix(1,0,0,1.03,0,-18.05)" >A</text>
<text x="990.69" y="613.3" font-family="Liberation Sans, sans-serif" font-size="18.8" font-weight="bold" font-style="italic" fill="#000" transform="matrix(1,0,0,1.03,0,-18.4)" >2</text>
<text x="1008.74" y="599.2" font-family="Liberation Sans, sans-serif" font-size="21" font-weight="bold" font-style="normal" fill="#000" transform="matrix(1,0,0,1.03,0,-17.98)" >*</text>
<text x="1023.3" y="601.6" font-family="Liberation Sans, sans-serif" font-size="23" font-weight="bold" font-style="italic" fill="#000" transform="matrix(1,0,0,1.03,0,-18.05)" >H</text>
<text x="1039.95" y="590" font-family="Liberation Sans, sans-serif" font-size="18.8" font-weight="bold" font-style="normal" fill="#000" transform="matrix(1,0,0,1.03,0,-17.7)" >2</text>
<text x="1039.89" y="613.3" font-family="Liberation Sans, sans-serif" font-size="18.8" font-weight="bold" font-style="italic" fill="#000" transform="matrix(1,0,0,1.03,0,-18.4)" >s</text>
<text x="1058.07" y="601.6" font-family="Liberation Sans, sans-serif" font-size="23" font-weight="bold" font-style="italic" fill="#000" transform="matrix(1,0,0,1.03,0,-18.05)" >T</text>
<text x="1072.08" y="613.3" font-family="Liberation Sans, sans-serif" font-size="18.8" font-weight="bold" font-style="italic" fill="#000" transform="matrix(1,0,0,1.03,0,-18.4)" >m</text>
<g transform="translate(18.2,307.44) rotate(-90)">
<text x="0" y="0" font-family="Liberation Sans, sans-serif" font-size="24" font-weight="bold" font-style="normal" fill="#000" transform="matrix(1,0,0,1.03,0,-0)" >coef.</text>
</g>
<g transform="translate(18.2,243.51) rotate(-90)">
<text x="0" y="0" font-family="Liberation Sans, sans-serif" font-size="24" font-weight="bold" font-style="italic" fill="#000" transform="matrix(1,0,0,1.03,0,-0)" >A</text>
</g>
<g transform="translate(29.7,224.91) rotate(-90)">
<path d="M380,0L604,1152L223,938L270,1180L666,1409L936,1409L661,0Z" transform="translate(0,0) scale(0.00928,-0.00956)" fill="#000" />
</g>
<g transform="translate(699.4,306.04) rotate(-90)">
<text x="0" y="0" font-family="Liberation Sans, sans-serif" font-size="24" font-weight="bold" font-style="normal" fill="#000" transform="matrix(1,0,0,1.03,0,-0)" >coef.</text>
</g>
<g transform="translate(699.4,243.01) rotate(-90)">
<text x="0" y="0" font-family="Liberation Sans, sans-serif" font-size="24" font-weight="bold" font-style="italic" fill="#000" transform="matrix(1,0,0,1.03,0,-0)" >A</text>
</g>
<g transform="translate(710.9,224.3) rotate(-90)">
<text x="0" y="0" font-family="Liberation Sans, sans-serif" font-size="19" font-weight="bold" font-style="italic" fill="#000" transform="matrix(1,0,0,1.03,0,-0)" >2</text>
</g>
<g transform="translate(18.2,840.44) rotate(-90)">
<text x="0" y="0" font-family="Liberation Sans, sans-serif" font-size="24" font-weight="bold" font-style="normal" fill="#000" transform="matrix(1,0,0,1.03,0,-0)" >coef.</text>
</g>
<g transform="translate(18.2,776.81) rotate(-90)">
<text x="0" y="0" font-family="Liberation Sans, sans-serif" font-size="24" font-weight="bold" font-style="italic" fill="#000" transform="matrix(1,0,0,1.03,0,-0)" >A</text>
</g>
<g transform="translate(29.7,757.81) rotate(-90)">
<path d="M380,0L604,1152L223,938L270,1180L666,1409L936,1409L661,0Z" transform="translate(0,0) scale(0.00928,-0.00956)" fill="#000" />
</g>
<g transform="translate(687.3,840.44) rotate(-90)">
<text x="0" y="0" font-family="Liberation Sans, sans-serif" font-size="24" font-weight="bold" font-style="normal" fill="#000" transform="matrix(1,0,0,1.03,0,-0)" >coef.</text>
</g>
<g transform="translate(687.3,776.81) rotate(-90)">
<text x="0" y="0" font-family="Liberation Sans, sans-serif" font-size="24" font-weight="bold" font-style="italic" fill="#000" transform="matrix(1,0,0,1.03,0,-0)" >A</text>
</g>
<g transform="translate(698.8,759) rotate(-90)">
<text x="0" y="0" font-family="Liberation Sans, sans-serif" font-size="19" font-weight="bold" font-style="italic" fill="#000" transform="matrix(1,0,0,1.03,0,-0)" >2</text>
</g>
<text x="320.28" y="498" font-family="Liberation Sans, sans-serif" font-size="22" font-weight="bold" font-style="italic" fill="#000" transform="matrix(1,0,0,1.03,0,-14.94)" >d</text>
<text x="989.38" y="498.6" font-family="Liberation Sans, sans-serif" font-size="22" font-weight="bold" font-style="italic" fill="#000" transform="matrix(1,0,0,1.03,0,-14.96)" >d</text>
<text x="305.98" y="1032.3" font-family="Liberation Sans, sans-serif" font-size="22" font-weight="bold" font-style="italic" fill="#000" transform="matrix(1,0,0,1.03,0,-30.97)" >d</text>
<text x="974.88" y="1032.3" font-family="Liberation Sans, sans-serif" font-size="22" font-weight="bold" font-style="italic" fill="#000" transform="matrix(1,0,0,1.03,0,-30.97)" >d</text>
<g stroke="#262626" stroke-width="0.7">
<g transform="translate(637.5,274.02) rotate(-90)">
<text x="0" y="0" font-family="Liberation Sans, sans-serif" font-size="23.5" font-weight="normal" font-style="italic" fill="#262626" transform="matrix(1,0,0,1.03,0,-0)" >R</text>
</g>
<g transform="translate(625.9,257.36) rotate(-90)">
<text x="0" y="0" font-family="Liberation Sans, sans-serif" font-size="19" font-weight="normal" font-style="normal" fill="#262626" transform="matrix(1,0,0,1.03,0,-0)" >2</text>
</g>
</g>
<g stroke="#262626" stroke-width="0.7">
<g transform="translate(1306.1,274.62) rotate(-90)">
<text x="0" y="0" font-family="Liberation Sans, sans-serif" font-size="23.5" font-weight="normal" font-style="italic" fill="#262626" transform="matrix(1,0,0,1.03,0,-0)" >R</text>
</g>
<g transform="translate(1293.9,257.46) rotate(-90)">
<text x="0" y="0" font-family="Liberation Sans, sans-serif" font-size="19" font-weight="normal" font-style="normal" fill="#262626" transform="matrix(1,0,0,1.03,0,-0)" >2</text>
</g>
</g>
<g stroke="#262626" stroke-width="0.7">
<g transform="translate(622.9,807.92) rotate(-90)">
<text x="0" y="0" font-family="Liberation Sans, sans-serif" font-size="23.5" font-weight="normal" font-style="italic" fill="#262626" transform="matrix(1,0,0,1.03,0,-0)" >R</text>
</g>
<g transform="translate(611.1,790.76) rotate(-90)">
<text x="0" y="0" font-family="Liberation Sans, sans-serif" font-size="19" font-weight="normal" font-style="normal" fill="#262626" transform="matrix(1,0,0,1.03,0,-0)" >2</text>
</g>
</g>
<g stroke="#262626" stroke-width="0.7">
<g transform="translate(1292,808.83) rotate(-90)">
<text x="0" y="0" font-family="Liberation Sans, sans-serif" font-size="23.5" font-weight="normal" font-style="normal" fill="#262626" transform="matrix(1,0,0,1.03,0,-0)" >R</text>
</g>
<g transform="translate(1279.9,791.08) rotate(-90)">
<text x="0" y="0" font-family="Liberation Sans, sans-serif" font-size="17.5" font-weight="normal" font-style="normal" fill="#262626" transform="matrix(1,0,0,1.03,0,-0)" >2</text>
</g>
</g>
<line x1="93.4" y1="920.7" x2="148.2" y2="920.7" stroke="#ea7a1e" stroke-width="1.9" stroke-dasharray="9.3 8.3"/>
<text x="152.61" y="924.3" font-family="Liberation Sans, sans-serif" font-size="19.8" font-weight="bold" font-style="italic" fill="#000" transform="matrix(1,0,0,1.03,0,-27.73)" >A</text>
<path d="M478,0L478,1170L140,959L140,1180L493,1409L759,1409L759,0Z" transform="translate(166.9,933.6) scale(0.00773,-0.00797)" fill="#000" />
<text x="175.71" y="924.3" font-family="Liberation Sans, sans-serif" font-size="19.8" font-weight="bold" font-style="normal" fill="#000" transform="matrix(1,0,0,1.03,0,-27.73)" >=-0.6*log(</text>
<text x="265.38" y="924.3" font-family="Liberation Sans, sans-serif" font-size="19.8" font-weight="bold" font-style="italic" fill="#000" transform="matrix(1,0,0,1.03,0,-27.73)" >d</text>
<text x="277.48" y="924.3" font-family="Liberation Sans, sans-serif" font-size="19.8" font-weight="bold" font-style="normal" fill="#000" transform="matrix(1,0,0,1.03,0,-27.73)" >)-4.9 [Site N&amp;H]</text>
<line x1="93.4" y1="955.5" x2="148.2" y2="955.5" stroke="#3a5fb8" stroke-width="1.9" stroke-dasharray="9.3 8.3"/>
<text x="152.41" y="958.7" font-family="Liberation Sans, sans-serif" font-size="19.8" font-weight="bold" font-style="italic" fill="#000" transform="matrix(1,0,0,1.03,0,-28.76)" >A</text>
<path d="M478,0L478,1170L140,959L140,1180L493,1409L759,1409L759,0Z" transform="translate(166.7,968.2) scale(0.00773,-0.00797)" fill="#000" />
<text x="175.51" y="958.7" font-family="Liberation Sans, sans-serif" font-size="19.8" font-weight="bold" font-style="normal" fill="#000" transform="matrix(1,0,0,1.03,0,-28.76)" >=-0.6*log(</text>
<text x="265.18" y="958.7" font-family="Liberation Sans, sans-serif" font-size="19.8" font-weight="bold" font-style="italic" fill="#000" transform="matrix(1,0,0,1.03,0,-28.76)" >d</text>
<text x="277.28" y="958.7" font-family="Liberation Sans, sans-serif" font-size="19.8" font-weight="bold" font-style="normal" fill="#000" transform="matrix(1,0,0,1.03,0,-28.76)" >)-5.2 [Site J]</text>
<line x1="776.3" y1="937.6" x2="831.2" y2="937.6" stroke="#4343a3" stroke-width="1.5" stroke-dasharray="9.3 8.3"/>
<text x="835.81" y="940.8" font-family="Liberation Sans, sans-serif" font-size="19.8" font-weight="bold" font-style="italic" fill="#000" transform="matrix(1,0,0,1.03,0,-28.22)" >A</text>
<text x="850.1" y="950.1" font-family="Liberation Sans, sans-serif" font-size="15.840000000000002" font-weight="bold" font-style="normal" fill="#000" transform="matrix(1,0,0,1.03,0,-28.5)" >2</text>
<text x="858.91" y="940.8" font-family="Liberation Sans, sans-serif" font-size="19.8" font-weight="bold" font-style="normal" fill="#000" transform="matrix(1,0,0,1.03,0,-28.22)" >=-</text>
<path d="M478,0L478,1170L140,959L140,1180L493,1409L759,1409L759,0Z" transform="translate(877.07,940.8) scale(0.00967,-0.00996)" fill="#000" />
<text x="888.08" y="940.8" font-family="Liberation Sans, sans-serif" font-size="19.8" font-weight="bold" font-style="normal" fill="#000" transform="matrix(1,0,0,1.03,0,-28.22)" >.</text>
<path d="M478,0L478,1170L140,959L140,1180L493,1409L759,1409L759,0Z" transform="translate(893.58,940.8) scale(0.00967,-0.00996)" fill="#000" />
<text x="904.6" y="940.8" font-family="Liberation Sans, sans-serif" font-size="19.8" font-weight="bold" font-style="normal" fill="#000" transform="matrix(1,0,0,1.03,0,-28.22)" >*log(</text>
<text x="948.58" y="940.8" font-family="Liberation Sans, sans-serif" font-size="19.8" font-weight="bold" font-style="italic" fill="#000" transform="matrix(1,0,0,1.03,0,-28.22)" >d</text>
<text x="960.68" y="940.8" font-family="Liberation Sans, sans-serif" font-size="19.8" font-weight="bold" font-style="normal" fill="#000" transform="matrix(1,0,0,1.03,0,-28.22)" >)-2.6</text>
<rect x="1327.4" y="85.5" width="28.4" height="50.49" fill="#ed1c24"/>
<rect x="1327.4" y="135.69" width="28.4" height="50.49" fill="#e6e7e8"/>
<rect x="1327.4" y="185.87" width="28.4" height="50.49" fill="#cbdb2a"/>
<rect x="1327.4" y="236.06" width="28.4" height="50.49" fill="#e6e7e8"/>
<rect x="1327.4" y="286.24" width="28.4" height="50.49" fill="#3d68b4"/>
<rect x="1327.4" y="336.43" width="28.4" height="50.49" fill="#e6e7e8"/>
<rect x="1327.4" y="386.61" width="28.4" height="50.49" fill="#808080"/>
<rect x="1327.4" y="85.5" width="28.4" height="351.3" fill="none" stroke="#3a3a3a" stroke-width="1"/>
<line x1="1352.8" y1="202.6" x2="1355.8" y2="202.6" stroke="#333" stroke-width="1" />
<line x1="1352.8" y1="319.7" x2="1355.8" y2="319.7" stroke="#333" stroke-width="1" />
<text x="1363.64" y="92.8" font-family="Liberation Sans, sans-serif" font-size="19.5" font-weight="bold" font-style="normal" fill="#000" transform="matrix(1,0,0,1.03,0,-2.78)" >Site N</text>
<text x="1363.64" y="209.9" font-family="Liberation Sans, sans-serif" font-size="19.5" font-weight="bold" font-style="normal" fill="#000" transform="matrix(1,0,0,1.03,0,-6.3)" >Site H</text>
<text x="1363.64" y="327" font-family="Liberation Sans, sans-serif" font-size="19.5" font-weight="bold" font-style="normal" fill="#000" transform="matrix(1,0,0,1.03,0,-9.81)" >Site J</text>
<rect x="1313.3" y="619.1" width="27.8" height="50.46" fill="#ed1c24"/>
<rect x="1313.3" y="669.26" width="27.8" height="50.46" fill="#e6e7e8"/>
<rect x="1313.3" y="719.41" width="27.8" height="50.46" fill="#cbdb2a"/>
<rect x="1313.3" y="769.57" width="27.8" height="50.46" fill="#e6e7e8"/>
<rect x="1313.3" y="819.73" width="27.8" height="50.46" fill="#3d68b4"/>
<rect x="1313.3" y="869.89" width="27.8" height="50.46" fill="#e6e7e8"/>
<rect x="1313.3" y="920.04" width="27.8" height="50.46" fill="#808080"/>
<rect x="1313.3" y="619.1" width="27.8" height="351.1" fill="none" stroke="#3a3a3a" stroke-width="1"/>
<line x1="1338.1" y1="736.13" x2="1341.1" y2="736.13" stroke="#333" stroke-width="1" />
<line x1="1338.1" y1="853.17" x2="1341.1" y2="853.17" stroke="#333" stroke-width="1" />
<text x="1350.04" y="626.6" font-family="Liberation Sans, sans-serif" font-size="19.5" font-weight="bold" font-style="normal" fill="#000" transform="matrix(1,0,0,1.03,0,-18.8)" >Site N</text>
<text x="1350.04" y="743.6" font-family="Liberation Sans, sans-serif" font-size="19.5" font-weight="bold" font-style="normal" fill="#000" transform="matrix(1,0,0,1.03,0,-22.31)" >Site H</text>
<text x="1350.04" y="860.6" font-family="Liberation Sans, sans-serif" font-size="19.5" font-weight="bold" font-style="normal" fill="#000" transform="matrix(1,0,0,1.03,0,-25.82)" >Site J</text>
<text x="1363.72" y="447.6" font-family="Liberation Sans, sans-serif" font-size="19" font-weight="normal" font-style="italic" fill="#000" transform="matrix(1,0,0,1.03,0,-13.43)" stroke="#000" stroke-width="0.45">R</text>
<text x="1379.19" y="437.8" font-family="Liberation Sans, sans-serif" font-size="15.5" font-weight="normal" font-style="italic" fill="#000" transform="matrix(1,0,0,1.03,0,-13.13)" stroke="#000" stroke-width="0.4">2</text>
<text x="1350.22" y="981.6" font-family="Liberation Sans, sans-serif" font-size="19" font-weight="normal" font-style="italic" fill="#000" transform="matrix(1,0,0,1.03,0,-29.45)" stroke="#000" stroke-width="0.45">R</text>
<text x="1365.69" y="971.8" font-family="Liberation Sans, sans-serif" font-size="15.5" font-weight="normal" font-style="italic" fill="#000" transform="matrix(1,0,0,1.03,0,-29.15)" stroke="#000" stroke-width="0.4">2</text>
</svg>
</body></html>
